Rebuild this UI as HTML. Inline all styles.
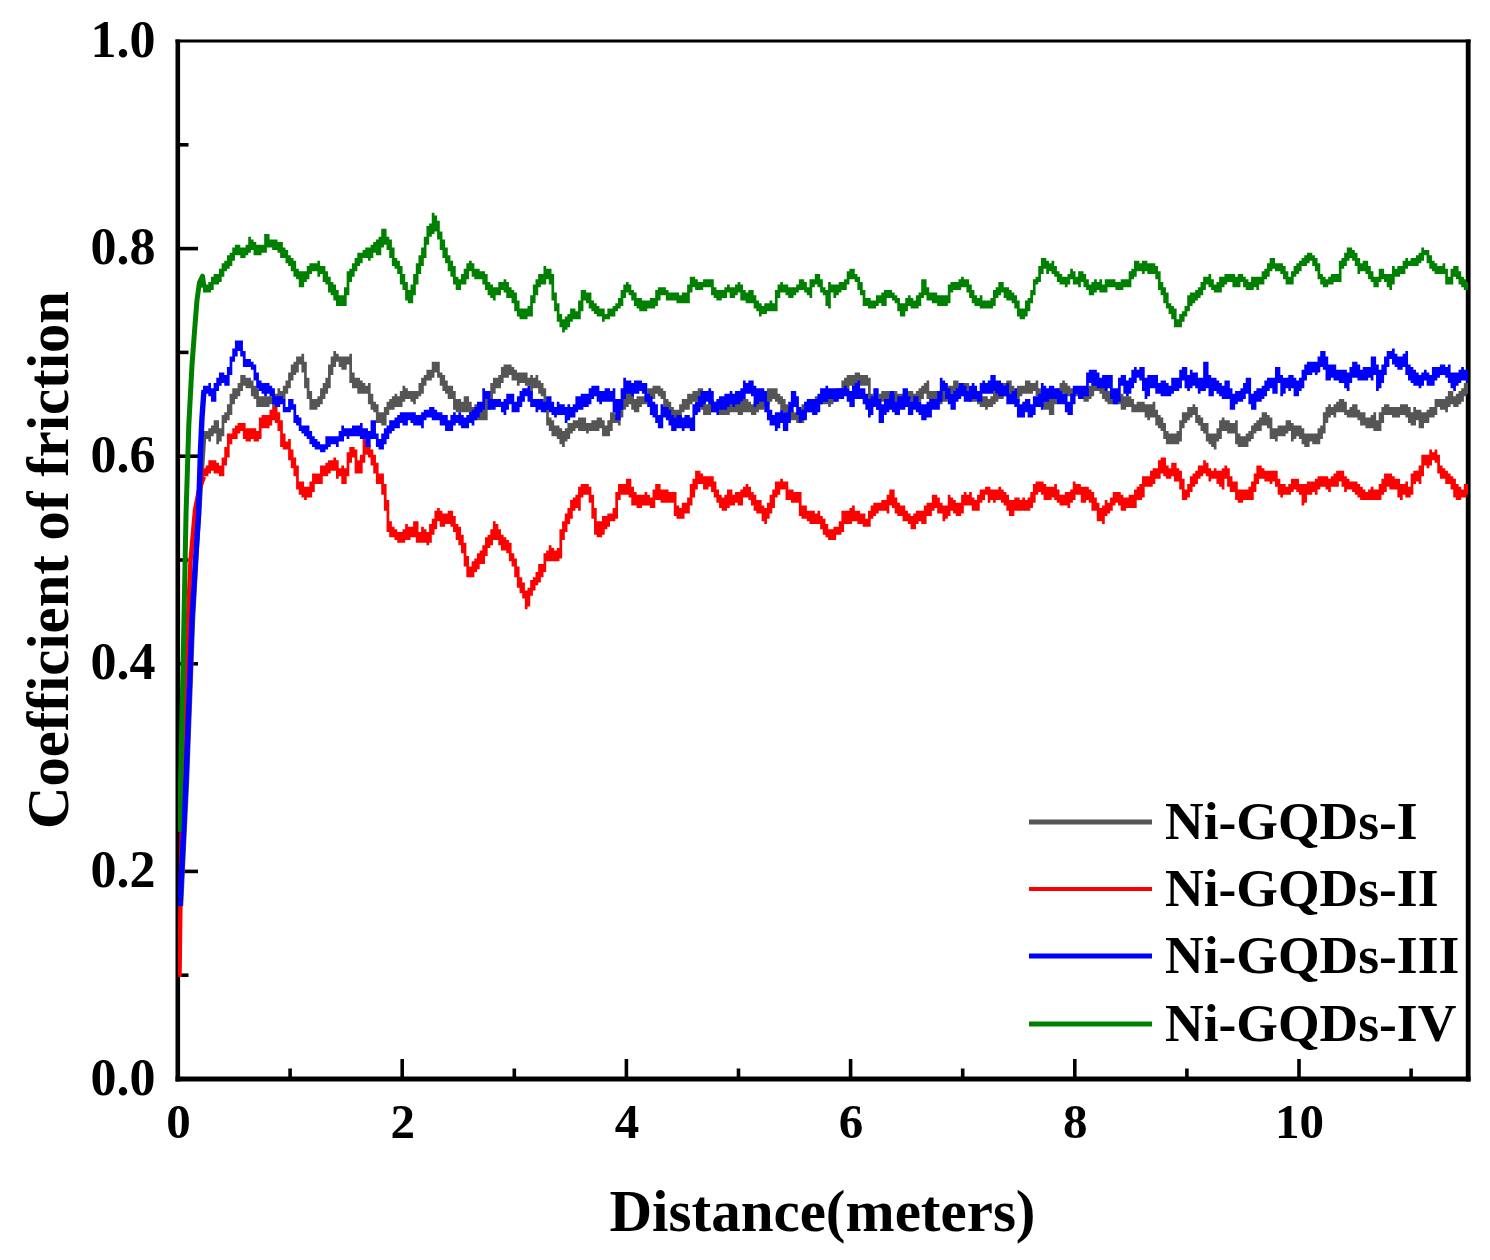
<!DOCTYPE html>
<html lang="en"><head><meta charset="utf-8"><title>Coefficient of friction vs distance</title>
<style>html,body{margin:0;padding:0;background:#fff}body{width:1490px;height:1260px;overflow:hidden}svg{display:block}</style>
</head><body>
<svg width="1490" height="1260" viewBox="0 0 1490 1260">
<rect width="1490" height="1260" fill="#fff"/>
<clipPath id="cp"><rect x="178.0" y="41.0" width="1290.0" height="1038.0"/></clipPath>
<g stroke="#000" fill="none">
<line x1="177.8" y1="39.5" x2="177.8" y2="1081.4" stroke-width="4.6"/>
<line x1="175.5" y1="1079.0" x2="1470.6" y2="1079.0" stroke-width="4.8"/>
<line x1="175.5" y1="41.0" x2="1470.6" y2="41.0" stroke-width="3"/>
<line x1="1468.2" y1="39.5" x2="1468.2" y2="1081.4" stroke-width="4.8"/>
<line x1="178.0" y1="975.2" x2="188.5" y2="975.2" stroke-width="3.6"/>
<line x1="178.0" y1="871.4" x2="198.0" y2="871.4" stroke-width="3.6"/>
<line x1="178.0" y1="767.6" x2="188.5" y2="767.6" stroke-width="3.6"/>
<line x1="178.0" y1="663.8" x2="198.0" y2="663.8" stroke-width="3.6"/>
<line x1="178.0" y1="560.0" x2="188.5" y2="560.0" stroke-width="3.6"/>
<line x1="178.0" y1="456.2" x2="198.0" y2="456.2" stroke-width="3.6"/>
<line x1="178.0" y1="352.4" x2="188.5" y2="352.4" stroke-width="3.6"/>
<line x1="178.0" y1="248.6" x2="198.0" y2="248.6" stroke-width="3.6"/>
<line x1="178.0" y1="144.8" x2="188.5" y2="144.8" stroke-width="3.6"/>
<line x1="290.1" y1="1079.0" x2="290.1" y2="1068.5" stroke-width="3.6"/>
<line x1="402.2" y1="1079.0" x2="402.2" y2="1059.0" stroke-width="3.6"/>
<line x1="514.3" y1="1079.0" x2="514.3" y2="1068.5" stroke-width="3.6"/>
<line x1="626.4" y1="1079.0" x2="626.4" y2="1059.0" stroke-width="3.6"/>
<line x1="738.5" y1="1079.0" x2="738.5" y2="1068.5" stroke-width="3.6"/>
<line x1="850.6" y1="1079.0" x2="850.6" y2="1059.0" stroke-width="3.6"/>
<line x1="962.7" y1="1079.0" x2="962.7" y2="1068.5" stroke-width="3.6"/>
<line x1="1074.8" y1="1079.0" x2="1074.8" y2="1059.0" stroke-width="3.6"/>
<line x1="1186.9" y1="1079.0" x2="1186.9" y2="1068.5" stroke-width="3.6"/>
<line x1="1299.0" y1="1079.0" x2="1299.0" y2="1059.0" stroke-width="3.6"/>
<line x1="1411.1" y1="1079.0" x2="1411.1" y2="1068.5" stroke-width="3.6"/>
</g>
<g clip-path="url(#cp)">
<path d="M181.0 906.0 L187.0 780.0 L193.0 618.0 L197.0 545.0 L202.5 460.0 L204.0 437.5" fill="none" stroke="#555555" stroke-width="4.5" stroke-linejoin="round"/>
<path d="M203.00 430.92h2.71v7.98h-2.71zM205.66 430.92h2.71v7.98h-2.71zM208.32 428.26h2.71v13.30h-2.71zM210.98 425.60h2.71v10.64h-2.71zM213.64 420.28h2.71v13.30h-2.71zM216.30 420.28h2.71v23.94h-2.71zM218.96 428.26h2.71v13.30h-2.71zM221.62 414.96h2.71v21.28h-2.71zM224.28 412.30h2.71v10.64h-2.71zM226.94 404.32h2.71v15.96h-2.71zM229.60 393.68h2.71v21.28h-2.71zM232.26 388.36h2.71v15.96h-2.71zM234.92 388.36h2.71v10.64h-2.71zM237.58 383.04h2.71v13.30h-2.71zM240.24 375.06h2.71v15.96h-2.71zM242.90 375.06h2.71v10.64h-2.71zM245.56 377.72h2.71v10.64h-2.71zM248.22 377.72h2.71v10.64h-2.71zM250.88 380.38h2.71v15.96h-2.71zM253.54 385.70h2.71v13.30h-2.71zM256.20 388.36h2.71v18.62h-2.71zM258.86 396.34h2.71v10.64h-2.71zM261.52 396.34h2.71v10.64h-2.71zM264.18 396.34h2.71v10.64h-2.71zM266.84 396.34h2.71v10.64h-2.71zM269.50 396.34h2.71v7.98h-2.71zM272.16 391.02h2.71v15.96h-2.71zM274.82 393.68h2.71v10.64h-2.71zM277.48 388.36h2.71v15.96h-2.71zM280.14 391.02h2.71v10.64h-2.71zM282.80 385.70h2.71v13.30h-2.71zM285.46 380.38h2.71v13.30h-2.71zM288.12 372.40h2.71v15.96h-2.71zM290.78 364.42h2.71v15.96h-2.71zM293.44 361.76h2.71v13.30h-2.71zM296.10 356.44h2.71v15.96h-2.71zM298.76 356.44h2.71v7.98h-2.71zM301.42 353.78h2.71v18.62h-2.71zM304.08 361.76h2.71v26.60h-2.71zM306.74 377.72h2.71v21.28h-2.71zM309.40 391.02h2.71v18.62h-2.71zM312.06 399.00h2.71v10.64h-2.71zM314.72 399.00h2.71v10.64h-2.71zM317.38 396.34h2.71v10.64h-2.71zM320.04 388.36h2.71v15.96h-2.71zM322.70 383.04h2.71v15.96h-2.71zM325.36 377.72h2.71v15.96h-2.71zM328.02 364.42h2.71v23.94h-2.71zM330.68 356.44h2.71v18.62h-2.71zM333.34 351.12h2.71v15.96h-2.71zM336.00 353.78h2.71v7.98h-2.71zM338.66 356.44h2.71v10.64h-2.71zM341.32 356.44h2.71v13.30h-2.71zM343.98 356.44h2.71v13.30h-2.71zM346.64 356.44h2.71v7.98h-2.71zM349.30 353.78h2.71v29.26h-2.71zM351.96 372.40h2.71v15.96h-2.71zM354.62 377.72h2.71v10.64h-2.71zM357.28 377.72h2.71v15.96h-2.71zM359.94 380.38h2.71v13.30h-2.71zM362.60 383.04h2.71v10.64h-2.71zM365.26 385.70h2.71v7.98h-2.71zM367.92 383.04h2.71v21.28h-2.71zM370.58 393.68h2.71v15.96h-2.71zM373.24 401.66h2.71v10.64h-2.71zM375.90 404.32h2.71v18.62h-2.71zM378.56 412.30h2.71v10.64h-2.71zM381.22 412.30h2.71v13.30h-2.71zM383.88 406.98h2.71v18.62h-2.71zM386.54 401.66h2.71v13.30h-2.71zM389.20 399.00h2.71v10.64h-2.71zM391.86 396.34h2.71v13.30h-2.71zM394.52 393.68h2.71v13.30h-2.71zM397.18 396.34h2.71v10.64h-2.71zM399.84 391.02h2.71v15.96h-2.71zM402.50 385.70h2.71v15.96h-2.71zM405.16 388.36h2.71v10.64h-2.71zM407.82 391.02h2.71v7.98h-2.71zM410.48 391.02h2.71v10.64h-2.71zM413.14 391.02h2.71v13.30h-2.71zM415.80 391.02h2.71v7.98h-2.71zM418.46 383.04h2.71v13.30h-2.71zM421.12 377.72h2.71v15.96h-2.71zM423.78 375.06h2.71v10.64h-2.71zM426.44 369.74h2.71v10.64h-2.71zM429.10 369.74h2.71v10.64h-2.71zM431.76 361.76h2.71v15.96h-2.71zM434.42 361.76h2.71v10.64h-2.71zM437.08 361.76h2.71v15.96h-2.71zM439.74 372.40h2.71v13.30h-2.71zM442.40 375.06h2.71v15.96h-2.71zM445.06 380.38h2.71v13.30h-2.71zM447.72 385.70h2.71v13.30h-2.71zM450.38 385.70h2.71v13.30h-2.71zM453.04 391.02h2.71v18.62h-2.71zM455.70 399.00h2.71v13.30h-2.71zM458.36 399.00h2.71v13.30h-2.71zM461.02 401.66h2.71v10.64h-2.71zM463.68 396.34h2.71v15.96h-2.71zM466.34 396.34h2.71v15.96h-2.71zM469.00 401.66h2.71v15.96h-2.71zM471.66 406.98h2.71v13.30h-2.71zM474.32 404.32h2.71v15.96h-2.71zM476.98 406.98h2.71v13.30h-2.71zM479.64 409.64h2.71v10.64h-2.71zM482.30 406.98h2.71v13.30h-2.71zM484.96 399.00h2.71v21.28h-2.71zM487.62 391.02h2.71v18.62h-2.71zM490.28 383.04h2.71v18.62h-2.71zM492.94 377.72h2.71v15.96h-2.71zM495.60 377.72h2.71v10.64h-2.71zM498.26 375.06h2.71v13.30h-2.71zM500.92 367.08h2.71v15.96h-2.71zM503.58 364.42h2.71v13.30h-2.71zM506.24 364.42h2.71v13.30h-2.71zM508.90 364.42h2.71v10.64h-2.71zM511.56 367.08h2.71v13.30h-2.71zM514.22 369.74h2.71v10.64h-2.71zM516.88 372.40h2.71v13.30h-2.71zM519.54 372.40h2.71v10.64h-2.71zM522.20 372.40h2.71v10.64h-2.71zM524.86 372.40h2.71v13.30h-2.71zM527.52 377.72h2.71v7.98h-2.71zM530.18 375.06h2.71v15.96h-2.71zM532.84 377.72h2.71v10.64h-2.71zM535.50 375.06h2.71v13.30h-2.71zM538.16 380.38h2.71v13.30h-2.71zM540.82 383.04h2.71v13.30h-2.71zM543.48 388.36h2.71v23.94h-2.71zM546.14 401.66h2.71v23.94h-2.71zM548.80 417.62h2.71v13.30h-2.71zM551.46 420.28h2.71v15.96h-2.71zM554.12 425.60h2.71v10.64h-2.71zM556.78 425.60h2.71v13.30h-2.71zM559.44 428.26h2.71v15.96h-2.71zM562.10 430.92h2.71v15.96h-2.71zM564.76 428.26h2.71v13.30h-2.71zM567.42 422.94h2.71v15.96h-2.71zM570.08 422.94h2.71v10.64h-2.71zM572.74 420.28h2.71v10.64h-2.71zM575.40 420.28h2.71v7.98h-2.71zM578.06 417.62h2.71v13.30h-2.71zM580.72 417.62h2.71v13.30h-2.71zM583.38 417.62h2.71v13.30h-2.71zM586.04 422.94h2.71v10.64h-2.71zM588.70 422.94h2.71v7.98h-2.71zM591.36 420.28h2.71v10.64h-2.71zM594.02 420.28h2.71v10.64h-2.71zM596.68 417.62h2.71v13.30h-2.71zM599.34 417.62h2.71v10.64h-2.71zM602.00 420.28h2.71v15.96h-2.71zM604.66 425.60h2.71v10.64h-2.71zM607.32 420.28h2.71v15.96h-2.71zM609.98 412.30h2.71v18.62h-2.71zM612.64 412.30h2.71v10.64h-2.71zM615.30 414.96h2.71v7.98h-2.71zM617.96 406.98h2.71v18.62h-2.71zM620.62 399.00h2.71v18.62h-2.71zM623.28 396.34h2.71v13.30h-2.71zM625.94 391.02h2.71v15.96h-2.71zM628.60 391.02h2.71v13.30h-2.71zM631.26 391.02h2.71v18.62h-2.71zM633.92 399.00h2.71v13.30h-2.71zM636.58 396.34h2.71v15.96h-2.71zM639.24 396.34h2.71v10.64h-2.71zM641.90 396.34h2.71v7.98h-2.71zM644.56 393.68h2.71v10.64h-2.71zM647.22 388.36h2.71v13.30h-2.71zM649.88 388.36h2.71v10.64h-2.71zM652.54 385.70h2.71v13.30h-2.71zM655.20 385.70h2.71v7.98h-2.71zM657.86 385.70h2.71v10.64h-2.71zM660.52 388.36h2.71v10.64h-2.71zM663.18 391.02h2.71v15.96h-2.71zM665.84 399.00h2.71v13.30h-2.71zM668.50 401.66h2.71v15.96h-2.71zM671.16 406.98h2.71v13.30h-2.71zM673.82 409.64h2.71v10.64h-2.71zM676.48 409.64h2.71v7.98h-2.71zM679.14 404.32h2.71v13.30h-2.71zM681.80 399.00h2.71v13.30h-2.71zM684.46 399.00h2.71v10.64h-2.71zM687.12 393.68h2.71v15.96h-2.71zM689.78 393.68h2.71v10.64h-2.71zM692.44 391.02h2.71v10.64h-2.71zM695.10 391.02h2.71v10.64h-2.71zM697.76 388.36h2.71v10.64h-2.71zM700.42 388.36h2.71v21.28h-2.71zM703.08 399.00h2.71v15.96h-2.71zM705.74 404.32h2.71v10.64h-2.71zM708.40 399.00h2.71v15.96h-2.71zM711.06 399.00h2.71v13.30h-2.71zM713.72 401.66h2.71v10.64h-2.71zM716.38 404.32h2.71v7.98h-2.71zM719.04 404.32h2.71v10.64h-2.71zM721.70 406.98h2.71v7.98h-2.71zM724.36 401.66h2.71v13.30h-2.71zM727.02 399.00h2.71v15.96h-2.71zM729.68 401.66h2.71v10.64h-2.71zM732.34 401.66h2.71v10.64h-2.71zM735.00 401.66h2.71v10.64h-2.71zM737.66 401.66h2.71v13.30h-2.71zM740.32 401.66h2.71v13.30h-2.71zM742.98 399.00h2.71v13.30h-2.71zM745.64 399.00h2.71v13.30h-2.71zM748.30 401.66h2.71v10.64h-2.71zM750.96 404.32h2.71v10.64h-2.71zM753.62 401.66h2.71v13.30h-2.71zM756.28 401.66h2.71v10.64h-2.71zM758.94 399.00h2.71v10.64h-2.71zM761.60 396.34h2.71v13.30h-2.71zM764.26 393.68h2.71v13.30h-2.71zM766.92 388.36h2.71v15.96h-2.71zM769.58 388.36h2.71v13.30h-2.71zM772.24 388.36h2.71v10.64h-2.71zM774.90 388.36h2.71v13.30h-2.71zM777.56 393.68h2.71v10.64h-2.71zM780.22 396.34h2.71v13.30h-2.71zM782.88 399.00h2.71v13.30h-2.71zM785.54 404.32h2.71v13.30h-2.71zM788.20 406.98h2.71v13.30h-2.71zM790.86 409.64h2.71v10.64h-2.71zM793.52 412.30h2.71v7.98h-2.71zM796.18 412.30h2.71v10.64h-2.71zM798.84 412.30h2.71v10.64h-2.71zM801.50 404.32h2.71v18.62h-2.71zM804.16 401.66h2.71v15.96h-2.71zM806.82 404.32h2.71v7.98h-2.71zM809.48 399.00h2.71v13.30h-2.71zM812.14 399.00h2.71v10.64h-2.71zM814.80 396.34h2.71v13.30h-2.71zM817.46 396.34h2.71v13.30h-2.71zM820.12 396.34h2.71v7.98h-2.71zM822.78 393.68h2.71v10.64h-2.71zM825.44 393.68h2.71v10.64h-2.71zM828.10 393.68h2.71v13.30h-2.71zM830.76 391.02h2.71v13.30h-2.71zM833.42 391.02h2.71v10.64h-2.71zM836.08 388.36h2.71v10.64h-2.71zM838.74 388.36h2.71v10.64h-2.71zM841.40 380.38h2.71v15.96h-2.71zM844.06 377.72h2.71v13.30h-2.71zM846.72 375.06h2.71v13.30h-2.71zM849.38 375.06h2.71v10.64h-2.71zM852.04 375.06h2.71v13.30h-2.71zM854.70 372.40h2.71v15.96h-2.71zM857.36 372.40h2.71v13.30h-2.71zM860.02 375.06h2.71v10.64h-2.71zM862.68 375.06h2.71v10.64h-2.71zM865.34 375.06h2.71v10.64h-2.71zM868.00 377.72h2.71v26.60h-2.71zM870.66 393.68h2.71v13.30h-2.71zM873.32 396.34h2.71v10.64h-2.71zM875.98 401.66h2.71v7.98h-2.71zM878.64 393.68h2.71v15.96h-2.71zM881.30 391.02h2.71v10.64h-2.71zM883.96 391.02h2.71v7.98h-2.71zM886.62 391.02h2.71v13.30h-2.71zM889.28 393.68h2.71v10.64h-2.71zM891.94 393.68h2.71v10.64h-2.71zM894.60 391.02h2.71v13.30h-2.71zM897.26 393.68h2.71v13.30h-2.71zM899.92 393.68h2.71v13.30h-2.71zM902.58 393.68h2.71v7.98h-2.71zM905.24 391.02h2.71v13.30h-2.71zM907.90 391.02h2.71v7.98h-2.71zM910.56 391.02h2.71v13.30h-2.71zM913.22 393.68h2.71v10.64h-2.71zM915.88 391.02h2.71v10.64h-2.71zM918.54 388.36h2.71v13.30h-2.71zM921.20 385.70h2.71v13.30h-2.71zM923.86 383.04h2.71v10.64h-2.71zM926.52 380.38h2.71v18.62h-2.71zM929.18 391.02h2.71v7.98h-2.71zM931.84 391.02h2.71v10.64h-2.71zM934.50 391.02h2.71v10.64h-2.71zM937.16 391.02h2.71v13.30h-2.71zM939.82 391.02h2.71v13.30h-2.71zM942.48 391.02h2.71v10.64h-2.71zM945.14 388.36h2.71v13.30h-2.71zM947.80 385.70h2.71v10.64h-2.71zM950.46 385.70h2.71v7.98h-2.71zM953.12 380.38h2.71v13.30h-2.71zM955.78 380.38h2.71v13.30h-2.71zM958.44 385.70h2.71v7.98h-2.71zM961.10 383.04h2.71v10.64h-2.71zM963.76 383.04h2.71v13.30h-2.71zM966.42 383.04h2.71v15.96h-2.71zM969.08 388.36h2.71v13.30h-2.71zM971.74 391.02h2.71v10.64h-2.71zM974.40 391.02h2.71v10.64h-2.71zM977.06 391.02h2.71v13.30h-2.71zM979.72 396.34h2.71v10.64h-2.71zM982.38 396.34h2.71v10.64h-2.71zM985.04 396.34h2.71v13.30h-2.71zM987.70 399.00h2.71v7.98h-2.71zM990.36 396.34h2.71v10.64h-2.71zM993.02 391.02h2.71v13.30h-2.71zM995.68 388.36h2.71v13.30h-2.71zM998.34 388.36h2.71v10.64h-2.71zM1001.00 388.36h2.71v10.64h-2.71zM1003.66 383.04h2.71v13.30h-2.71zM1006.32 380.38h2.71v13.30h-2.71zM1008.98 380.38h2.71v15.96h-2.71zM1011.64 385.70h2.71v13.30h-2.71zM1014.30 391.02h2.71v7.98h-2.71zM1016.96 385.70h2.71v15.96h-2.71zM1019.62 385.70h2.71v10.64h-2.71zM1022.28 385.70h2.71v7.98h-2.71zM1024.94 380.38h2.71v13.30h-2.71zM1027.60 380.38h2.71v13.30h-2.71zM1030.26 383.04h2.71v10.64h-2.71zM1032.92 383.04h2.71v7.98h-2.71zM1035.58 380.38h2.71v15.96h-2.71zM1038.24 388.36h2.71v10.64h-2.71zM1040.90 391.02h2.71v15.96h-2.71zM1043.56 396.34h2.71v13.30h-2.71zM1046.22 399.00h2.71v10.64h-2.71zM1048.88 399.00h2.71v15.96h-2.71zM1051.54 396.34h2.71v18.62h-2.71zM1054.20 391.02h2.71v13.30h-2.71zM1056.86 388.36h2.71v10.64h-2.71zM1059.52 383.04h2.71v15.96h-2.71zM1062.18 380.38h2.71v13.30h-2.71zM1064.84 383.04h2.71v13.30h-2.71zM1067.50 385.70h2.71v10.64h-2.71zM1070.16 388.36h2.71v7.98h-2.71zM1072.82 388.36h2.71v7.98h-2.71zM1075.48 388.36h2.71v7.98h-2.71zM1078.14 388.36h2.71v10.64h-2.71zM1080.80 388.36h2.71v10.64h-2.71zM1083.46 388.36h2.71v13.30h-2.71zM1086.12 388.36h2.71v13.30h-2.71zM1088.78 385.70h2.71v13.30h-2.71zM1091.44 377.72h2.71v18.62h-2.71zM1094.10 377.72h2.71v13.30h-2.71zM1096.76 380.38h2.71v10.64h-2.71zM1099.42 380.38h2.71v13.30h-2.71zM1102.08 383.04h2.71v15.96h-2.71zM1104.74 388.36h2.71v13.30h-2.71zM1107.40 391.02h2.71v13.30h-2.71zM1110.06 393.68h2.71v10.64h-2.71zM1112.72 393.68h2.71v10.64h-2.71zM1115.38 393.68h2.71v10.64h-2.71zM1118.04 396.34h2.71v7.98h-2.71zM1120.70 393.68h2.71v15.96h-2.71zM1123.36 396.34h2.71v13.30h-2.71zM1126.02 396.34h2.71v10.64h-2.71zM1128.68 396.34h2.71v10.64h-2.71zM1131.34 399.00h2.71v13.30h-2.71zM1134.00 404.32h2.71v7.98h-2.71zM1136.66 401.66h2.71v10.64h-2.71zM1139.32 401.66h2.71v10.64h-2.71zM1141.98 401.66h2.71v10.64h-2.71zM1144.64 404.32h2.71v13.30h-2.71zM1147.30 404.32h2.71v15.96h-2.71zM1149.96 404.32h2.71v13.30h-2.71zM1152.62 401.66h2.71v15.96h-2.71zM1155.28 409.64h2.71v15.96h-2.71zM1157.94 414.96h2.71v13.30h-2.71zM1160.60 417.62h2.71v13.30h-2.71zM1163.26 422.94h2.71v15.96h-2.71zM1165.92 430.92h2.71v13.30h-2.71zM1168.58 433.58h2.71v10.64h-2.71zM1171.24 433.58h2.71v10.64h-2.71zM1173.90 433.58h2.71v10.64h-2.71zM1176.56 430.92h2.71v13.30h-2.71zM1179.22 420.28h2.71v21.28h-2.71zM1181.88 412.30h2.71v15.96h-2.71zM1184.54 412.30h2.71v10.64h-2.71zM1187.20 406.98h2.71v13.30h-2.71zM1189.86 406.98h2.71v10.64h-2.71zM1192.52 404.32h2.71v10.64h-2.71zM1195.18 406.98h2.71v15.96h-2.71zM1197.84 414.96h2.71v10.64h-2.71zM1200.50 417.62h2.71v13.30h-2.71zM1203.16 422.94h2.71v10.64h-2.71zM1205.82 422.94h2.71v18.62h-2.71zM1208.48 433.58h2.71v10.64h-2.71zM1211.14 433.58h2.71v13.30h-2.71zM1213.80 433.58h2.71v15.96h-2.71zM1216.46 428.26h2.71v13.30h-2.71zM1219.12 420.28h2.71v18.62h-2.71zM1221.78 417.62h2.71v13.30h-2.71zM1224.44 420.28h2.71v10.64h-2.71zM1227.10 420.28h2.71v13.30h-2.71zM1229.76 422.94h2.71v10.64h-2.71zM1232.42 422.94h2.71v10.64h-2.71zM1235.08 420.28h2.71v23.94h-2.71zM1237.74 433.58h2.71v13.30h-2.71zM1240.40 436.24h2.71v10.64h-2.71zM1243.06 436.24h2.71v10.64h-2.71zM1245.72 433.58h2.71v13.30h-2.71zM1248.38 430.92h2.71v10.64h-2.71zM1251.04 425.60h2.71v13.30h-2.71zM1253.70 422.94h2.71v10.64h-2.71zM1256.36 420.28h2.71v10.64h-2.71zM1259.02 417.62h2.71v13.30h-2.71zM1261.68 412.30h2.71v13.30h-2.71zM1264.34 412.30h2.71v13.30h-2.71zM1267.00 414.96h2.71v13.30h-2.71zM1269.66 417.62h2.71v21.28h-2.71zM1272.32 428.26h2.71v10.64h-2.71zM1274.98 428.26h2.71v13.30h-2.71zM1277.64 425.60h2.71v10.64h-2.71zM1280.30 425.60h2.71v10.64h-2.71zM1282.96 425.60h2.71v10.64h-2.71zM1285.62 420.28h2.71v13.30h-2.71zM1288.28 420.28h2.71v10.64h-2.71zM1290.94 422.94h2.71v18.62h-2.71zM1293.60 425.60h2.71v13.30h-2.71zM1296.26 425.60h2.71v10.64h-2.71zM1298.92 425.60h2.71v13.30h-2.71zM1301.58 428.26h2.71v15.96h-2.71zM1304.24 433.58h2.71v13.30h-2.71zM1306.90 433.58h2.71v13.30h-2.71zM1309.56 433.58h2.71v7.98h-2.71zM1312.22 433.58h2.71v10.64h-2.71zM1314.88 433.58h2.71v10.64h-2.71zM1317.54 428.26h2.71v15.96h-2.71zM1320.20 425.60h2.71v13.30h-2.71zM1322.86 412.30h2.71v21.28h-2.71zM1325.52 406.98h2.71v15.96h-2.71zM1328.18 404.32h2.71v13.30h-2.71zM1330.84 406.98h2.71v7.98h-2.71zM1333.50 404.32h2.71v13.30h-2.71zM1336.16 401.66h2.71v10.64h-2.71zM1338.82 399.00h2.71v13.30h-2.71zM1341.48 399.00h2.71v13.30h-2.71zM1344.14 401.66h2.71v13.30h-2.71zM1346.80 409.64h2.71v7.98h-2.71zM1349.46 406.98h2.71v10.64h-2.71zM1352.12 404.32h2.71v13.30h-2.71zM1354.78 404.32h2.71v13.30h-2.71zM1357.44 409.64h2.71v10.64h-2.71zM1360.10 412.30h2.71v13.30h-2.71zM1362.76 412.30h2.71v13.30h-2.71zM1365.42 417.62h2.71v10.64h-2.71zM1368.08 417.62h2.71v10.64h-2.71zM1370.74 414.96h2.71v13.30h-2.71zM1373.40 412.30h2.71v18.62h-2.71zM1376.06 420.28h2.71v10.64h-2.71zM1378.72 412.30h2.71v18.62h-2.71zM1381.38 406.98h2.71v15.96h-2.71zM1384.04 404.32h2.71v10.64h-2.71zM1386.70 404.32h2.71v10.64h-2.71zM1389.36 406.98h2.71v7.98h-2.71zM1392.02 406.98h2.71v10.64h-2.71zM1394.68 406.98h2.71v10.64h-2.71zM1397.34 406.98h2.71v10.64h-2.71zM1400.00 404.32h2.71v10.64h-2.71zM1402.66 404.32h2.71v10.64h-2.71zM1405.32 404.32h2.71v13.30h-2.71zM1407.98 406.98h2.71v15.96h-2.71zM1410.64 412.30h2.71v13.30h-2.71zM1413.30 406.98h2.71v18.62h-2.71zM1415.96 409.64h2.71v10.64h-2.71zM1418.62 409.64h2.71v18.62h-2.71zM1421.28 412.30h2.71v15.96h-2.71zM1423.94 412.30h2.71v10.64h-2.71zM1426.60 409.64h2.71v13.30h-2.71zM1429.26 406.98h2.71v10.64h-2.71zM1431.92 406.98h2.71v10.64h-2.71zM1434.58 399.00h2.71v15.96h-2.71zM1437.24 399.00h2.71v7.98h-2.71zM1439.90 399.00h2.71v10.64h-2.71zM1442.56 399.00h2.71v10.64h-2.71zM1445.22 396.34h2.71v15.96h-2.71zM1447.88 391.02h2.71v15.96h-2.71zM1450.54 391.02h2.71v13.30h-2.71zM1453.20 396.34h2.71v10.64h-2.71zM1455.86 393.68h2.71v13.30h-2.71zM1458.52 391.02h2.71v13.30h-2.71zM1461.18 388.36h2.71v13.30h-2.71zM1463.84 383.04h2.71v13.30h-2.71zM1466.50 383.04h2.71v10.64h-2.71z" fill="#555555"/>
<path d="M179.5 977.0 L180.5 900.0 L182.0 811.0 L185.5 700.0 L188.0 618.0 L190.5 561.0 L195.0 510.0 L199.0 490.0 L204.0 476.8" fill="none" stroke="#ff0000" stroke-width="4.4" stroke-linejoin="round"/>
<path d="M203.00 468.16h2.71v7.98h-2.71zM205.66 465.50h2.71v10.64h-2.71zM208.32 460.18h2.71v13.30h-2.71zM210.98 460.18h2.71v10.64h-2.71zM213.64 460.18h2.71v13.30h-2.71zM216.30 462.84h2.71v10.64h-2.71zM218.96 465.50h2.71v10.64h-2.71zM221.62 457.52h2.71v18.62h-2.71zM224.28 446.88h2.71v18.62h-2.71zM226.94 433.58h2.71v23.94h-2.71zM229.60 433.58h2.71v10.64h-2.71zM232.26 428.26h2.71v10.64h-2.71zM234.92 425.60h2.71v13.30h-2.71zM237.58 422.94h2.71v10.64h-2.71zM240.24 422.94h2.71v7.98h-2.71zM242.90 422.94h2.71v15.96h-2.71zM245.56 428.26h2.71v13.30h-2.71zM248.22 428.26h2.71v13.30h-2.71zM250.88 428.26h2.71v10.64h-2.71zM253.54 428.26h2.71v13.30h-2.71zM256.20 430.92h2.71v10.64h-2.71zM258.86 417.62h2.71v21.28h-2.71zM261.52 414.96h2.71v13.30h-2.71zM264.18 414.96h2.71v13.30h-2.71zM266.84 414.96h2.71v13.30h-2.71zM269.50 409.64h2.71v15.96h-2.71zM272.16 406.98h2.71v13.30h-2.71zM274.82 406.98h2.71v15.96h-2.71zM277.48 412.30h2.71v18.62h-2.71zM280.14 420.28h2.71v26.60h-2.71zM282.80 433.58h2.71v15.96h-2.71zM285.46 441.56h2.71v7.98h-2.71zM288.12 438.90h2.71v21.28h-2.71zM290.78 449.54h2.71v18.62h-2.71zM293.44 457.52h2.71v18.62h-2.71zM296.10 465.50h2.71v23.94h-2.71zM298.76 481.46h2.71v13.30h-2.71zM301.42 481.46h2.71v15.96h-2.71zM304.08 486.78h2.71v13.30h-2.71zM306.74 486.78h2.71v10.64h-2.71zM309.40 481.46h2.71v15.96h-2.71zM312.06 473.48h2.71v18.62h-2.71zM314.72 473.48h2.71v10.64h-2.71zM317.38 473.48h2.71v10.64h-2.71zM320.04 465.50h2.71v18.62h-2.71zM322.70 465.50h2.71v10.64h-2.71zM325.36 462.84h2.71v13.30h-2.71zM328.02 460.18h2.71v13.30h-2.71zM330.68 460.18h2.71v10.64h-2.71zM333.34 457.52h2.71v13.30h-2.71zM336.00 460.18h2.71v18.62h-2.71zM338.66 468.16h2.71v7.98h-2.71zM341.32 465.50h2.71v18.62h-2.71zM343.98 468.16h2.71v15.96h-2.71zM346.64 452.20h2.71v23.94h-2.71zM349.30 446.88h2.71v15.96h-2.71zM351.96 446.88h2.71v10.64h-2.71zM354.62 449.54h2.71v23.94h-2.71zM357.28 460.18h2.71v13.30h-2.71zM359.94 454.86h2.71v18.62h-2.71zM362.60 438.90h2.71v23.94h-2.71zM365.26 441.56h2.71v13.30h-2.71zM367.92 444.22h2.71v13.30h-2.71zM370.58 449.54h2.71v15.96h-2.71zM373.24 454.86h2.71v18.62h-2.71zM375.90 462.84h2.71v21.28h-2.71zM378.56 473.48h2.71v10.64h-2.71zM381.22 473.48h2.71v21.28h-2.71zM383.88 484.12h2.71v26.60h-2.71zM386.54 500.08h2.71v31.92h-2.71zM389.20 521.36h2.71v15.96h-2.71zM391.86 526.68h2.71v10.64h-2.71zM394.52 529.34h2.71v10.64h-2.71zM397.18 532.00h2.71v10.64h-2.71zM399.84 532.00h2.71v10.64h-2.71zM402.50 529.34h2.71v13.30h-2.71zM405.16 524.02h2.71v15.96h-2.71zM407.82 526.68h2.71v13.30h-2.71zM410.48 526.68h2.71v10.64h-2.71zM413.14 521.36h2.71v15.96h-2.71zM415.80 521.36h2.71v21.28h-2.71zM418.46 532.00h2.71v10.64h-2.71zM421.12 526.68h2.71v15.96h-2.71zM423.78 529.34h2.71v13.30h-2.71zM426.44 532.00h2.71v13.30h-2.71zM429.10 524.02h2.71v18.62h-2.71zM431.76 518.70h2.71v15.96h-2.71zM434.42 510.72h2.71v18.62h-2.71zM437.08 508.06h2.71v13.30h-2.71zM439.74 510.72h2.71v15.96h-2.71zM442.40 513.38h2.71v13.30h-2.71zM445.06 513.38h2.71v10.64h-2.71zM447.72 510.72h2.71v13.30h-2.71zM450.38 510.72h2.71v15.96h-2.71zM453.04 516.04h2.71v15.96h-2.71zM455.70 524.02h2.71v15.96h-2.71zM458.36 526.68h2.71v18.62h-2.71zM461.02 534.66h2.71v18.62h-2.71zM463.68 542.64h2.71v23.94h-2.71zM466.34 555.94h2.71v21.28h-2.71zM469.00 566.58h2.71v10.64h-2.71zM471.66 561.26h2.71v15.96h-2.71zM474.32 558.60h2.71v13.30h-2.71zM476.98 553.28h2.71v15.96h-2.71zM479.64 550.62h2.71v13.30h-2.71zM482.30 545.30h2.71v18.62h-2.71zM484.96 537.32h2.71v18.62h-2.71zM487.62 534.66h2.71v13.30h-2.71zM490.28 529.34h2.71v15.96h-2.71zM492.94 521.36h2.71v18.62h-2.71zM495.60 524.02h2.71v15.96h-2.71zM498.26 529.34h2.71v15.96h-2.71zM500.92 534.66h2.71v15.96h-2.71zM503.58 537.32h2.71v13.30h-2.71zM506.24 539.98h2.71v13.30h-2.71zM508.90 542.64h2.71v18.62h-2.71zM511.56 553.28h2.71v13.30h-2.71zM514.22 558.60h2.71v18.62h-2.71zM516.88 566.58h2.71v21.28h-2.71zM519.54 577.22h2.71v15.96h-2.71zM522.20 582.54h2.71v15.96h-2.71zM524.86 590.52h2.71v18.62h-2.71zM527.52 587.86h2.71v18.62h-2.71zM530.18 579.88h2.71v15.96h-2.71zM532.84 577.22h2.71v13.30h-2.71zM535.50 571.90h2.71v13.30h-2.71zM538.16 563.92h2.71v18.62h-2.71zM540.82 563.92h2.71v13.30h-2.71zM543.48 553.28h2.71v18.62h-2.71zM546.14 550.62h2.71v10.64h-2.71zM548.80 545.30h2.71v15.96h-2.71zM551.46 547.96h2.71v13.30h-2.71zM554.12 550.62h2.71v10.64h-2.71zM556.78 547.96h2.71v13.30h-2.71zM559.44 529.34h2.71v29.26h-2.71zM562.10 521.36h2.71v18.62h-2.71zM564.76 513.38h2.71v18.62h-2.71zM567.42 508.06h2.71v15.96h-2.71zM570.08 500.08h2.71v18.62h-2.71zM572.74 497.42h2.71v13.30h-2.71zM575.40 494.76h2.71v13.30h-2.71zM578.06 486.78h2.71v23.94h-2.71zM580.72 484.12h2.71v13.30h-2.71zM583.38 484.12h2.71v10.64h-2.71zM586.04 484.12h2.71v10.64h-2.71zM588.70 486.78h2.71v15.96h-2.71zM591.36 494.76h2.71v23.94h-2.71zM594.02 508.06h2.71v26.60h-2.71zM596.68 521.36h2.71v15.96h-2.71zM599.34 521.36h2.71v15.96h-2.71zM602.00 516.04h2.71v18.62h-2.71zM604.66 516.04h2.71v13.30h-2.71zM607.32 513.38h2.71v13.30h-2.71zM609.98 513.38h2.71v7.98h-2.71zM612.64 508.06h2.71v13.30h-2.71zM615.30 492.10h2.71v26.60h-2.71zM617.96 484.12h2.71v15.96h-2.71zM620.62 484.12h2.71v10.64h-2.71zM623.28 484.12h2.71v10.64h-2.71zM625.94 478.80h2.71v15.96h-2.71zM628.60 478.80h2.71v18.62h-2.71zM631.26 486.78h2.71v18.62h-2.71zM633.92 492.10h2.71v13.30h-2.71zM636.58 494.76h2.71v13.30h-2.71zM639.24 494.76h2.71v13.30h-2.71zM641.90 494.76h2.71v10.64h-2.71zM644.56 492.10h2.71v13.30h-2.71zM647.22 494.76h2.71v10.64h-2.71zM649.88 497.42h2.71v10.64h-2.71zM652.54 489.44h2.71v18.62h-2.71zM655.20 484.12h2.71v15.96h-2.71zM657.86 484.12h2.71v15.96h-2.71zM660.52 489.44h2.71v13.30h-2.71zM663.18 489.44h2.71v13.30h-2.71zM665.84 489.44h2.71v13.30h-2.71zM668.50 492.10h2.71v10.64h-2.71zM671.16 492.10h2.71v10.64h-2.71zM673.82 492.10h2.71v23.94h-2.71zM676.48 505.40h2.71v13.30h-2.71zM679.14 508.06h2.71v10.64h-2.71zM681.80 502.74h2.71v15.96h-2.71zM684.46 502.74h2.71v10.64h-2.71zM687.12 497.42h2.71v15.96h-2.71zM689.78 484.12h2.71v21.28h-2.71zM692.44 478.80h2.71v18.62h-2.71zM695.10 470.82h2.71v18.62h-2.71zM697.76 470.82h2.71v13.30h-2.71zM700.42 473.48h2.71v10.64h-2.71zM703.08 476.14h2.71v13.30h-2.71zM705.74 476.14h2.71v13.30h-2.71zM708.40 476.14h2.71v10.64h-2.71zM711.06 476.14h2.71v15.96h-2.71zM713.72 481.46h2.71v15.96h-2.71zM716.38 489.44h2.71v13.30h-2.71zM719.04 494.76h2.71v13.30h-2.71zM721.70 497.42h2.71v13.30h-2.71zM724.36 494.76h2.71v15.96h-2.71zM727.02 489.44h2.71v18.62h-2.71zM729.68 489.44h2.71v15.96h-2.71zM732.34 494.76h2.71v10.64h-2.71zM735.00 492.10h2.71v10.64h-2.71zM737.66 492.10h2.71v13.30h-2.71zM740.32 489.44h2.71v15.96h-2.71zM742.98 486.78h2.71v10.64h-2.71zM745.64 484.12h2.71v13.30h-2.71zM748.30 486.78h2.71v13.30h-2.71zM750.96 492.10h2.71v13.30h-2.71zM753.62 494.76h2.71v15.96h-2.71zM756.28 500.08h2.71v13.30h-2.71zM758.94 500.08h2.71v13.30h-2.71zM761.60 505.40h2.71v15.96h-2.71zM764.26 508.06h2.71v15.96h-2.71zM766.92 502.74h2.71v15.96h-2.71zM769.58 494.76h2.71v18.62h-2.71zM772.24 489.44h2.71v18.62h-2.71zM774.90 481.46h2.71v15.96h-2.71zM777.56 481.46h2.71v13.30h-2.71zM780.22 478.80h2.71v10.64h-2.71zM782.88 481.46h2.71v7.98h-2.71zM785.54 481.46h2.71v18.62h-2.71zM788.20 489.44h2.71v10.64h-2.71zM790.86 489.44h2.71v13.30h-2.71zM793.52 492.10h2.71v10.64h-2.71zM796.18 492.10h2.71v10.64h-2.71zM798.84 492.10h2.71v23.94h-2.71zM801.50 505.40h2.71v13.30h-2.71zM804.16 505.40h2.71v13.30h-2.71zM806.82 510.72h2.71v10.64h-2.71zM809.48 510.72h2.71v13.30h-2.71zM812.14 510.72h2.71v13.30h-2.71zM814.80 513.38h2.71v10.64h-2.71zM817.46 510.72h2.71v13.30h-2.71zM820.12 516.04h2.71v13.30h-2.71zM822.78 518.70h2.71v15.96h-2.71zM825.44 524.02h2.71v13.30h-2.71zM828.10 529.34h2.71v10.64h-2.71zM830.76 529.34h2.71v10.64h-2.71zM833.42 526.68h2.71v13.30h-2.71zM836.08 526.68h2.71v7.98h-2.71zM838.74 521.36h2.71v13.30h-2.71zM841.40 510.72h2.71v21.28h-2.71zM844.06 510.72h2.71v13.30h-2.71zM846.72 510.72h2.71v13.30h-2.71zM849.38 508.06h2.71v15.96h-2.71zM852.04 505.40h2.71v15.96h-2.71zM854.70 510.72h2.71v10.64h-2.71zM857.36 510.72h2.71v13.30h-2.71zM860.02 513.38h2.71v10.64h-2.71zM862.68 513.38h2.71v13.30h-2.71zM865.34 518.70h2.71v7.98h-2.71zM868.00 510.72h2.71v15.96h-2.71zM870.66 505.40h2.71v13.30h-2.71zM873.32 502.74h2.71v13.30h-2.71zM875.98 502.74h2.71v10.64h-2.71zM878.64 502.74h2.71v7.98h-2.71zM881.30 500.08h2.71v10.64h-2.71zM883.96 500.08h2.71v10.64h-2.71zM886.62 494.76h2.71v18.62h-2.71zM889.28 489.44h2.71v15.96h-2.71zM891.94 489.44h2.71v18.62h-2.71zM894.60 497.42h2.71v15.96h-2.71zM897.26 502.74h2.71v13.30h-2.71zM899.92 505.40h2.71v10.64h-2.71zM902.58 505.40h2.71v15.96h-2.71zM905.24 510.72h2.71v10.64h-2.71zM907.90 513.38h2.71v10.64h-2.71zM910.56 516.04h2.71v13.30h-2.71zM913.22 513.38h2.71v15.96h-2.71zM915.88 510.72h2.71v13.30h-2.71zM918.54 510.72h2.71v10.64h-2.71zM921.20 510.72h2.71v13.30h-2.71zM923.86 505.40h2.71v18.62h-2.71zM926.52 502.74h2.71v13.30h-2.71zM929.18 502.74h2.71v13.30h-2.71zM931.84 494.76h2.71v15.96h-2.71zM934.50 494.76h2.71v13.30h-2.71zM937.16 497.42h2.71v15.96h-2.71zM939.82 502.74h2.71v10.64h-2.71zM942.48 505.40h2.71v15.96h-2.71zM945.14 505.40h2.71v13.30h-2.71zM947.80 494.76h2.71v21.28h-2.71zM950.46 497.42h2.71v13.30h-2.71zM953.12 500.08h2.71v13.30h-2.71zM955.78 502.74h2.71v13.30h-2.71zM958.44 502.74h2.71v13.30h-2.71zM961.10 494.76h2.71v18.62h-2.71zM963.76 492.10h2.71v13.30h-2.71zM966.42 494.76h2.71v10.64h-2.71zM969.08 492.10h2.71v13.30h-2.71zM971.74 497.42h2.71v13.30h-2.71zM974.40 500.08h2.71v10.64h-2.71zM977.06 494.76h2.71v15.96h-2.71zM979.72 489.44h2.71v13.30h-2.71zM982.38 489.44h2.71v10.64h-2.71zM985.04 486.78h2.71v7.98h-2.71zM987.70 486.78h2.71v15.96h-2.71zM990.36 489.44h2.71v10.64h-2.71zM993.02 489.44h2.71v13.30h-2.71zM995.68 489.44h2.71v10.64h-2.71zM998.34 486.78h2.71v13.30h-2.71zM1001.00 489.44h2.71v13.30h-2.71zM1003.66 492.10h2.71v13.30h-2.71zM1006.32 494.76h2.71v15.96h-2.71zM1008.98 500.08h2.71v15.96h-2.71zM1011.64 500.08h2.71v15.96h-2.71zM1014.30 497.42h2.71v13.30h-2.71zM1016.96 497.42h2.71v13.30h-2.71zM1019.62 500.08h2.71v10.64h-2.71zM1022.28 497.42h2.71v13.30h-2.71zM1024.94 500.08h2.71v10.64h-2.71zM1027.60 497.42h2.71v13.30h-2.71zM1030.26 492.10h2.71v15.96h-2.71zM1032.92 484.12h2.71v18.62h-2.71zM1035.58 481.46h2.71v13.30h-2.71zM1038.24 481.46h2.71v10.64h-2.71zM1040.90 481.46h2.71v13.30h-2.71zM1043.56 484.12h2.71v15.96h-2.71zM1046.22 486.78h2.71v13.30h-2.71zM1048.88 486.78h2.71v13.30h-2.71zM1051.54 486.78h2.71v10.64h-2.71zM1054.20 484.12h2.71v15.96h-2.71zM1056.86 489.44h2.71v13.30h-2.71zM1059.52 494.76h2.71v10.64h-2.71zM1062.18 494.76h2.71v10.64h-2.71zM1064.84 492.10h2.71v13.30h-2.71zM1067.50 492.10h2.71v15.96h-2.71zM1070.16 489.44h2.71v13.30h-2.71zM1072.82 481.46h2.71v18.62h-2.71zM1075.48 484.12h2.71v10.64h-2.71zM1078.14 484.12h2.71v10.64h-2.71zM1080.80 486.78h2.71v15.96h-2.71zM1083.46 486.78h2.71v15.96h-2.71zM1086.12 486.78h2.71v13.30h-2.71zM1088.78 489.44h2.71v13.30h-2.71zM1091.44 492.10h2.71v18.62h-2.71zM1094.10 497.42h2.71v13.30h-2.71zM1096.76 502.74h2.71v18.62h-2.71zM1099.42 508.06h2.71v13.30h-2.71zM1102.08 505.40h2.71v18.62h-2.71zM1104.74 500.08h2.71v15.96h-2.71zM1107.40 502.74h2.71v10.64h-2.71zM1110.06 497.42h2.71v13.30h-2.71zM1112.72 492.10h2.71v13.30h-2.71zM1115.38 492.10h2.71v10.64h-2.71zM1118.04 492.10h2.71v13.30h-2.71zM1120.70 494.76h2.71v15.96h-2.71zM1123.36 497.42h2.71v13.30h-2.71zM1126.02 497.42h2.71v10.64h-2.71zM1128.68 494.76h2.71v13.30h-2.71zM1131.34 494.76h2.71v13.30h-2.71zM1134.00 489.44h2.71v18.62h-2.71zM1136.66 486.78h2.71v13.30h-2.71zM1139.32 484.12h2.71v15.96h-2.71zM1141.98 476.14h2.71v21.28h-2.71zM1144.64 476.14h2.71v10.64h-2.71zM1147.30 476.14h2.71v10.64h-2.71zM1149.96 470.82h2.71v15.96h-2.71zM1152.62 468.16h2.71v15.96h-2.71zM1155.28 468.16h2.71v10.64h-2.71zM1157.94 460.18h2.71v18.62h-2.71zM1160.60 457.52h2.71v15.96h-2.71zM1163.26 457.52h2.71v18.62h-2.71zM1165.92 465.50h2.71v13.30h-2.71zM1168.58 468.16h2.71v10.64h-2.71zM1171.24 462.84h2.71v13.30h-2.71zM1173.90 462.84h2.71v18.62h-2.71zM1176.56 468.16h2.71v13.30h-2.71zM1179.22 470.82h2.71v18.62h-2.71zM1181.88 478.80h2.71v21.28h-2.71zM1184.54 489.44h2.71v10.64h-2.71zM1187.20 484.12h2.71v13.30h-2.71zM1189.86 476.14h2.71v15.96h-2.71zM1192.52 473.48h2.71v13.30h-2.71zM1195.18 470.82h2.71v13.30h-2.71zM1197.84 465.50h2.71v13.30h-2.71zM1200.50 465.50h2.71v10.64h-2.71zM1203.16 460.18h2.71v13.30h-2.71zM1205.82 462.84h2.71v13.30h-2.71zM1208.48 468.16h2.71v13.30h-2.71zM1211.14 470.82h2.71v7.98h-2.71zM1213.80 468.16h2.71v10.64h-2.71zM1216.46 470.82h2.71v13.30h-2.71zM1219.12 470.82h2.71v15.96h-2.71zM1221.78 468.16h2.71v21.28h-2.71zM1224.44 465.50h2.71v13.30h-2.71zM1227.10 468.16h2.71v18.62h-2.71zM1229.76 476.14h2.71v15.96h-2.71zM1232.42 481.46h2.71v10.64h-2.71zM1235.08 481.46h2.71v18.62h-2.71zM1237.74 489.44h2.71v13.30h-2.71zM1240.40 489.44h2.71v13.30h-2.71zM1243.06 489.44h2.71v10.64h-2.71zM1245.72 489.44h2.71v10.64h-2.71zM1248.38 486.78h2.71v13.30h-2.71zM1251.04 481.46h2.71v18.62h-2.71zM1253.70 473.48h2.71v18.62h-2.71zM1256.36 465.50h2.71v18.62h-2.71zM1259.02 465.50h2.71v13.30h-2.71zM1261.68 468.16h2.71v10.64h-2.71zM1264.34 470.82h2.71v10.64h-2.71zM1267.00 470.82h2.71v10.64h-2.71zM1269.66 470.82h2.71v13.30h-2.71zM1272.32 470.82h2.71v10.64h-2.71zM1274.98 470.82h2.71v15.96h-2.71zM1277.64 478.80h2.71v15.96h-2.71zM1280.30 484.12h2.71v13.30h-2.71zM1282.96 484.12h2.71v10.64h-2.71zM1285.62 486.78h2.71v7.98h-2.71zM1288.28 484.12h2.71v10.64h-2.71zM1290.94 478.80h2.71v13.30h-2.71zM1293.60 478.80h2.71v10.64h-2.71zM1296.26 478.80h2.71v13.30h-2.71zM1298.92 484.12h2.71v10.64h-2.71zM1301.58 484.12h2.71v21.28h-2.71zM1304.24 484.12h2.71v18.62h-2.71zM1306.90 481.46h2.71v13.30h-2.71zM1309.56 481.46h2.71v13.30h-2.71zM1312.22 481.46h2.71v10.64h-2.71zM1314.88 478.80h2.71v15.96h-2.71zM1317.54 476.14h2.71v13.30h-2.71zM1320.20 476.14h2.71v10.64h-2.71zM1322.86 476.14h2.71v10.64h-2.71zM1325.52 476.14h2.71v13.30h-2.71zM1328.18 478.80h2.71v13.30h-2.71zM1330.84 476.14h2.71v10.64h-2.71zM1333.50 473.48h2.71v13.30h-2.71zM1336.16 470.82h2.71v15.96h-2.71zM1338.82 470.82h2.71v10.64h-2.71zM1341.48 470.82h2.71v15.96h-2.71zM1344.14 476.14h2.71v15.96h-2.71zM1346.80 478.80h2.71v10.64h-2.71zM1349.46 481.46h2.71v7.98h-2.71zM1352.12 481.46h2.71v10.64h-2.71zM1354.78 481.46h2.71v13.30h-2.71zM1357.44 484.12h2.71v13.30h-2.71zM1360.10 486.78h2.71v13.30h-2.71zM1362.76 489.44h2.71v10.64h-2.71zM1365.42 492.10h2.71v7.98h-2.71zM1368.08 489.44h2.71v10.64h-2.71zM1370.74 486.78h2.71v13.30h-2.71zM1373.40 489.44h2.71v10.64h-2.71zM1376.06 489.44h2.71v10.64h-2.71zM1378.72 484.12h2.71v15.96h-2.71zM1381.38 478.80h2.71v15.96h-2.71zM1384.04 473.48h2.71v18.62h-2.71zM1386.70 473.48h2.71v13.30h-2.71zM1389.36 473.48h2.71v15.96h-2.71zM1392.02 476.14h2.71v13.30h-2.71zM1394.68 478.80h2.71v10.64h-2.71zM1397.34 478.80h2.71v18.62h-2.71zM1400.00 484.12h2.71v15.96h-2.71zM1402.66 484.12h2.71v10.64h-2.71zM1405.32 481.46h2.71v15.96h-2.71zM1407.98 486.78h2.71v10.64h-2.71zM1410.64 473.48h2.71v21.28h-2.71zM1413.30 470.82h2.71v13.30h-2.71zM1415.96 470.82h2.71v10.64h-2.71zM1418.62 465.50h2.71v18.62h-2.71zM1421.28 454.86h2.71v21.28h-2.71zM1423.94 454.86h2.71v10.64h-2.71zM1426.60 454.86h2.71v13.30h-2.71zM1429.26 449.54h2.71v15.96h-2.71zM1431.92 452.20h2.71v7.98h-2.71zM1434.58 449.54h2.71v13.30h-2.71zM1437.24 454.86h2.71v18.62h-2.71zM1439.90 465.50h2.71v13.30h-2.71zM1442.56 468.16h2.71v10.64h-2.71zM1445.22 470.82h2.71v13.30h-2.71zM1447.88 473.48h2.71v10.64h-2.71zM1450.54 476.14h2.71v13.30h-2.71zM1453.20 478.80h2.71v18.62h-2.71zM1455.86 484.12h2.71v15.96h-2.71zM1458.52 486.78h2.71v13.30h-2.71zM1461.18 489.44h2.71v7.98h-2.71zM1463.84 484.12h2.71v13.30h-2.71zM1466.50 484.12h2.71v10.64h-2.71z" fill="#ff0000"/>
<path d="M180.0 906.0 L186.0 780.0 L192.0 618.0 L195.5 561.0 L198.5 515.0 L200.5 450.0 L202.0 417.5 L204.0 390.0" fill="none" stroke="#0000ff" stroke-width="5.4" stroke-linejoin="round"/>
<path d="M203.00 385.70h2.71v7.98h-2.71zM205.66 385.70h2.71v7.98h-2.71zM208.32 383.04h2.71v13.30h-2.71zM210.98 388.36h2.71v13.30h-2.71zM213.64 383.04h2.71v18.62h-2.71zM216.30 377.72h2.71v13.30h-2.71zM218.96 372.40h2.71v13.30h-2.71zM221.62 372.40h2.71v10.64h-2.71zM224.28 375.06h2.71v10.64h-2.71zM226.94 367.08h2.71v18.62h-2.71zM229.60 356.44h2.71v18.62h-2.71zM232.26 348.46h2.71v13.30h-2.71zM234.92 340.48h2.71v15.96h-2.71zM237.58 340.48h2.71v10.64h-2.71zM240.24 340.48h2.71v15.96h-2.71zM242.90 351.12h2.71v15.96h-2.71zM245.56 359.10h2.71v7.98h-2.71zM248.22 359.10h2.71v7.98h-2.71zM250.88 361.76h2.71v7.98h-2.71zM253.54 364.42h2.71v15.96h-2.71zM256.20 372.40h2.71v15.96h-2.71zM258.86 380.38h2.71v10.64h-2.71zM261.52 383.04h2.71v10.64h-2.71zM264.18 383.04h2.71v13.30h-2.71zM266.84 383.04h2.71v10.64h-2.71zM269.50 385.70h2.71v10.64h-2.71zM272.16 388.36h2.71v15.96h-2.71zM274.82 396.34h2.71v10.64h-2.71zM277.48 396.34h2.71v10.64h-2.71zM280.14 396.34h2.71v7.98h-2.71zM282.80 399.00h2.71v13.30h-2.71zM285.46 406.98h2.71v5.32h-2.71zM288.12 399.00h2.71v13.30h-2.71zM290.78 399.00h2.71v10.64h-2.71zM293.44 404.32h2.71v18.62h-2.71zM296.10 414.96h2.71v10.64h-2.71zM298.76 417.62h2.71v13.30h-2.71zM301.42 425.60h2.71v7.98h-2.71zM304.08 425.60h2.71v10.64h-2.71zM306.74 425.60h2.71v13.30h-2.71zM309.40 430.92h2.71v13.30h-2.71zM312.06 436.24h2.71v10.64h-2.71zM314.72 438.90h2.71v10.64h-2.71zM317.38 441.56h2.71v7.98h-2.71zM320.04 444.22h2.71v7.98h-2.71zM322.70 444.22h2.71v7.98h-2.71zM325.36 436.24h2.71v13.30h-2.71zM328.02 436.24h2.71v10.64h-2.71zM330.68 436.24h2.71v7.98h-2.71zM333.34 436.24h2.71v7.98h-2.71zM336.00 436.24h2.71v10.64h-2.71zM338.66 430.92h2.71v10.64h-2.71zM341.32 425.60h2.71v15.96h-2.71zM343.98 428.26h2.71v7.98h-2.71zM346.64 428.26h2.71v10.64h-2.71zM349.30 428.26h2.71v7.98h-2.71zM351.96 425.60h2.71v10.64h-2.71zM354.62 425.60h2.71v10.64h-2.71zM357.28 425.60h2.71v10.64h-2.71zM359.94 422.94h2.71v15.96h-2.71zM362.60 428.26h2.71v10.64h-2.71zM365.26 428.26h2.71v18.62h-2.71zM367.92 430.92h2.71v15.96h-2.71zM370.58 420.28h2.71v18.62h-2.71zM373.24 420.28h2.71v18.62h-2.71zM375.90 433.58h2.71v13.30h-2.71zM378.56 438.90h2.71v10.64h-2.71zM381.22 433.58h2.71v15.96h-2.71zM383.88 428.26h2.71v15.96h-2.71zM386.54 425.60h2.71v13.30h-2.71zM389.20 420.28h2.71v13.30h-2.71zM391.86 420.28h2.71v10.64h-2.71zM394.52 417.62h2.71v10.64h-2.71zM397.18 414.96h2.71v13.30h-2.71zM399.84 412.30h2.71v10.64h-2.71zM402.50 412.30h2.71v13.30h-2.71zM405.16 412.30h2.71v13.30h-2.71zM407.82 412.30h2.71v7.98h-2.71zM410.48 412.30h2.71v10.64h-2.71zM413.14 412.30h2.71v13.30h-2.71zM415.80 414.96h2.71v10.64h-2.71zM418.46 414.96h2.71v10.64h-2.71zM421.12 412.30h2.71v15.96h-2.71zM423.78 409.64h2.71v10.64h-2.71zM426.44 409.64h2.71v7.98h-2.71zM429.10 406.98h2.71v10.64h-2.71zM431.76 406.98h2.71v13.30h-2.71zM434.42 409.64h2.71v10.64h-2.71zM437.08 412.30h2.71v7.98h-2.71zM439.74 412.30h2.71v13.30h-2.71zM442.40 414.96h2.71v10.64h-2.71zM445.06 414.96h2.71v15.96h-2.71zM447.72 420.28h2.71v10.64h-2.71zM450.38 414.96h2.71v15.96h-2.71zM453.04 412.30h2.71v13.30h-2.71zM455.70 414.96h2.71v7.98h-2.71zM458.36 412.30h2.71v13.30h-2.71zM461.02 414.96h2.71v13.30h-2.71zM463.68 417.62h2.71v10.64h-2.71zM466.34 414.96h2.71v13.30h-2.71zM469.00 412.30h2.71v10.64h-2.71zM471.66 409.64h2.71v15.96h-2.71zM474.32 406.98h2.71v13.30h-2.71zM476.98 401.66h2.71v15.96h-2.71zM479.64 401.66h2.71v10.64h-2.71zM482.30 388.36h2.71v21.28h-2.71zM484.96 391.02h2.71v7.98h-2.71zM487.62 391.02h2.71v18.62h-2.71zM490.28 399.00h2.71v10.64h-2.71zM492.94 399.00h2.71v10.64h-2.71zM495.60 399.00h2.71v7.98h-2.71zM498.26 399.00h2.71v7.98h-2.71zM500.92 401.66h2.71v10.64h-2.71zM503.58 399.00h2.71v15.96h-2.71zM506.24 393.68h2.71v15.96h-2.71zM508.90 393.68h2.71v10.64h-2.71zM511.56 393.68h2.71v18.62h-2.71zM514.22 401.66h2.71v10.64h-2.71zM516.88 396.34h2.71v15.96h-2.71zM519.54 391.02h2.71v15.96h-2.71zM522.20 388.36h2.71v13.30h-2.71zM524.86 388.36h2.71v7.98h-2.71zM527.52 385.70h2.71v15.96h-2.71zM530.18 391.02h2.71v15.96h-2.71zM532.84 399.00h2.71v7.98h-2.71zM535.50 399.00h2.71v13.30h-2.71zM538.16 399.00h2.71v10.64h-2.71zM540.82 399.00h2.71v13.30h-2.71zM543.48 401.66h2.71v10.64h-2.71zM546.14 396.34h2.71v13.30h-2.71zM548.80 396.34h2.71v15.96h-2.71zM551.46 401.66h2.71v13.30h-2.71zM554.12 406.98h2.71v10.64h-2.71zM556.78 401.66h2.71v13.30h-2.71zM559.44 404.32h2.71v10.64h-2.71zM562.10 404.32h2.71v10.64h-2.71zM564.76 406.98h2.71v15.96h-2.71zM567.42 404.32h2.71v15.96h-2.71zM570.08 406.98h2.71v10.64h-2.71zM572.74 404.32h2.71v13.30h-2.71zM575.40 396.34h2.71v15.96h-2.71zM578.06 396.34h2.71v13.30h-2.71zM580.72 393.68h2.71v15.96h-2.71zM583.38 393.68h2.71v13.30h-2.71zM586.04 393.68h2.71v13.30h-2.71zM588.70 388.36h2.71v15.96h-2.71zM591.36 385.70h2.71v13.30h-2.71zM594.02 385.70h2.71v10.64h-2.71zM596.68 385.70h2.71v15.96h-2.71zM599.34 391.02h2.71v13.30h-2.71zM602.00 391.02h2.71v10.64h-2.71zM604.66 388.36h2.71v13.30h-2.71zM607.32 388.36h2.71v13.30h-2.71zM609.98 391.02h2.71v10.64h-2.71zM612.64 388.36h2.71v23.94h-2.71zM615.30 399.00h2.71v21.28h-2.71zM617.96 399.00h2.71v21.28h-2.71zM620.62 388.36h2.71v21.28h-2.71zM623.28 377.72h2.71v21.28h-2.71zM625.94 380.38h2.71v13.30h-2.71zM628.60 380.38h2.71v13.30h-2.71zM631.26 383.04h2.71v13.30h-2.71zM633.92 380.38h2.71v13.30h-2.71zM636.58 380.38h2.71v13.30h-2.71zM639.24 380.38h2.71v10.64h-2.71zM641.90 383.04h2.71v10.64h-2.71zM644.56 383.04h2.71v18.62h-2.71zM647.22 393.68h2.71v13.30h-2.71zM649.88 396.34h2.71v18.62h-2.71zM652.54 401.66h2.71v15.96h-2.71zM655.20 404.32h2.71v18.62h-2.71zM657.86 414.96h2.71v13.30h-2.71zM660.52 404.32h2.71v23.94h-2.71zM663.18 406.98h2.71v10.64h-2.71zM665.84 406.98h2.71v13.30h-2.71zM668.50 409.64h2.71v15.96h-2.71zM671.16 414.96h2.71v15.96h-2.71zM673.82 417.62h2.71v13.30h-2.71zM676.48 414.96h2.71v13.30h-2.71zM679.14 414.96h2.71v13.30h-2.71zM681.80 417.62h2.71v13.30h-2.71zM684.46 414.96h2.71v13.30h-2.71zM687.12 414.96h2.71v13.30h-2.71zM689.78 417.62h2.71v13.30h-2.71zM692.44 404.32h2.71v26.60h-2.71zM695.10 401.66h2.71v13.30h-2.71zM697.76 396.34h2.71v15.96h-2.71zM700.42 391.02h2.71v15.96h-2.71zM703.08 391.02h2.71v13.30h-2.71zM705.74 391.02h2.71v10.64h-2.71zM708.40 388.36h2.71v15.96h-2.71zM711.06 391.02h2.71v21.28h-2.71zM713.72 401.66h2.71v10.64h-2.71zM716.38 399.00h2.71v15.96h-2.71zM719.04 396.34h2.71v13.30h-2.71zM721.70 396.34h2.71v13.30h-2.71zM724.36 393.68h2.71v15.96h-2.71zM727.02 393.68h2.71v13.30h-2.71zM729.68 391.02h2.71v13.30h-2.71zM732.34 393.68h2.71v13.30h-2.71zM735.00 391.02h2.71v13.30h-2.71zM737.66 391.02h2.71v13.30h-2.71zM740.32 388.36h2.71v13.30h-2.71zM742.98 380.38h2.71v18.62h-2.71zM745.64 383.04h2.71v10.64h-2.71zM748.30 380.38h2.71v13.30h-2.71zM750.96 380.38h2.71v15.96h-2.71zM753.62 385.70h2.71v21.28h-2.71zM756.28 388.36h2.71v15.96h-2.71zM758.94 388.36h2.71v13.30h-2.71zM761.60 388.36h2.71v13.30h-2.71zM764.26 391.02h2.71v21.28h-2.71zM766.92 401.66h2.71v18.62h-2.71zM769.58 409.64h2.71v15.96h-2.71zM772.24 414.96h2.71v10.64h-2.71zM774.90 412.30h2.71v18.62h-2.71zM777.56 412.30h2.71v15.96h-2.71zM780.22 409.64h2.71v13.30h-2.71zM782.88 412.30h2.71v18.62h-2.71zM785.54 412.30h2.71v18.62h-2.71zM788.20 401.66h2.71v21.28h-2.71zM790.86 391.02h2.71v21.28h-2.71zM793.52 391.02h2.71v15.96h-2.71zM796.18 396.34h2.71v18.62h-2.71zM798.84 406.98h2.71v15.96h-2.71zM801.50 409.64h2.71v10.64h-2.71zM804.16 401.66h2.71v18.62h-2.71zM806.82 399.00h2.71v13.30h-2.71zM809.48 399.00h2.71v13.30h-2.71zM812.14 399.00h2.71v15.96h-2.71zM814.80 399.00h2.71v15.96h-2.71zM817.46 393.68h2.71v18.62h-2.71zM820.12 388.36h2.71v15.96h-2.71zM822.78 388.36h2.71v13.30h-2.71zM825.44 385.70h2.71v15.96h-2.71zM828.10 388.36h2.71v10.64h-2.71zM830.76 388.36h2.71v10.64h-2.71zM833.42 388.36h2.71v13.30h-2.71zM836.08 388.36h2.71v13.30h-2.71zM838.74 388.36h2.71v10.64h-2.71zM841.40 388.36h2.71v10.64h-2.71zM844.06 385.70h2.71v10.64h-2.71zM846.72 388.36h2.71v13.30h-2.71zM849.38 391.02h2.71v15.96h-2.71zM852.04 385.70h2.71v21.28h-2.71zM854.70 383.04h2.71v15.96h-2.71zM857.36 380.38h2.71v18.62h-2.71zM860.02 388.36h2.71v10.64h-2.71zM862.68 388.36h2.71v15.96h-2.71zM865.34 393.68h2.71v15.96h-2.71zM868.00 399.00h2.71v18.62h-2.71zM870.66 396.34h2.71v18.62h-2.71zM873.32 388.36h2.71v18.62h-2.71zM875.98 388.36h2.71v21.28h-2.71zM878.64 399.00h2.71v23.94h-2.71zM881.30 404.32h2.71v18.62h-2.71zM883.96 399.00h2.71v15.96h-2.71zM886.62 399.00h2.71v13.30h-2.71zM889.28 391.02h2.71v18.62h-2.71zM891.94 391.02h2.71v21.28h-2.71zM894.60 401.66h2.71v13.30h-2.71zM897.26 396.34h2.71v18.62h-2.71zM899.92 396.34h2.71v13.30h-2.71zM902.58 388.36h2.71v21.28h-2.71zM905.24 388.36h2.71v18.62h-2.71zM907.90 396.34h2.71v18.62h-2.71zM910.56 401.66h2.71v13.30h-2.71zM913.22 396.34h2.71v13.30h-2.71zM915.88 396.34h2.71v15.96h-2.71zM918.54 401.66h2.71v13.30h-2.71zM921.20 404.32h2.71v15.96h-2.71zM923.86 404.32h2.71v15.96h-2.71zM926.52 401.66h2.71v15.96h-2.71zM929.18 399.00h2.71v18.62h-2.71zM931.84 399.00h2.71v10.64h-2.71zM934.50 399.00h2.71v10.64h-2.71zM937.16 391.02h2.71v18.62h-2.71zM939.82 377.72h2.71v23.94h-2.71zM942.48 380.38h2.71v10.64h-2.71zM945.14 383.04h2.71v15.96h-2.71zM947.80 388.36h2.71v15.96h-2.71zM950.46 393.68h2.71v15.96h-2.71zM953.12 391.02h2.71v18.62h-2.71zM955.78 388.36h2.71v13.30h-2.71zM958.44 383.04h2.71v15.96h-2.71zM961.10 383.04h2.71v13.30h-2.71zM963.76 385.70h2.71v15.96h-2.71zM966.42 391.02h2.71v10.64h-2.71zM969.08 385.70h2.71v15.96h-2.71zM971.74 383.04h2.71v15.96h-2.71zM974.40 385.70h2.71v13.30h-2.71zM977.06 391.02h2.71v10.64h-2.71zM979.72 383.04h2.71v18.62h-2.71zM982.38 380.38h2.71v13.30h-2.71zM985.04 383.04h2.71v10.64h-2.71zM987.70 380.38h2.71v13.30h-2.71zM990.36 375.06h2.71v18.62h-2.71zM993.02 375.06h2.71v15.96h-2.71zM995.68 380.38h2.71v13.30h-2.71zM998.34 380.38h2.71v15.96h-2.71zM1001.00 383.04h2.71v13.30h-2.71zM1003.66 385.70h2.71v10.64h-2.71zM1006.32 383.04h2.71v21.28h-2.71zM1008.98 393.68h2.71v10.64h-2.71zM1011.64 391.02h2.71v13.30h-2.71zM1014.30 388.36h2.71v18.62h-2.71zM1016.96 399.00h2.71v18.62h-2.71zM1019.62 404.32h2.71v13.30h-2.71zM1022.28 401.66h2.71v15.96h-2.71zM1024.94 399.00h2.71v13.30h-2.71zM1027.60 399.00h2.71v18.62h-2.71zM1030.26 404.32h2.71v13.30h-2.71zM1032.92 396.34h2.71v18.62h-2.71zM1035.58 396.34h2.71v10.64h-2.71zM1038.24 393.68h2.71v13.30h-2.71zM1040.90 383.04h2.71v26.60h-2.71zM1043.56 385.70h2.71v15.96h-2.71zM1046.22 388.36h2.71v13.30h-2.71zM1048.88 385.70h2.71v13.30h-2.71zM1051.54 385.70h2.71v13.30h-2.71zM1054.20 388.36h2.71v10.64h-2.71zM1056.86 388.36h2.71v15.96h-2.71zM1059.52 391.02h2.71v13.30h-2.71zM1062.18 393.68h2.71v10.64h-2.71zM1064.84 393.68h2.71v18.62h-2.71zM1067.50 401.66h2.71v13.30h-2.71zM1070.16 393.68h2.71v21.28h-2.71zM1072.82 385.70h2.71v18.62h-2.71zM1075.48 385.70h2.71v7.98h-2.71zM1078.14 385.70h2.71v13.30h-2.71zM1080.80 385.70h2.71v13.30h-2.71zM1083.46 385.70h2.71v10.64h-2.71zM1086.12 372.40h2.71v23.94h-2.71zM1088.78 369.74h2.71v13.30h-2.71zM1091.44 369.74h2.71v15.96h-2.71zM1094.10 369.74h2.71v15.96h-2.71zM1096.76 372.40h2.71v15.96h-2.71zM1099.42 377.72h2.71v10.64h-2.71zM1102.08 375.06h2.71v13.30h-2.71zM1104.74 375.06h2.71v15.96h-2.71zM1107.40 375.06h2.71v13.30h-2.71zM1110.06 375.06h2.71v23.94h-2.71zM1112.72 388.36h2.71v15.96h-2.71zM1115.38 388.36h2.71v15.96h-2.71zM1118.04 377.72h2.71v23.94h-2.71zM1120.70 375.06h2.71v10.64h-2.71zM1123.36 375.06h2.71v18.62h-2.71zM1126.02 380.38h2.71v15.96h-2.71zM1128.68 377.72h2.71v15.96h-2.71zM1131.34 369.74h2.71v18.62h-2.71zM1134.00 367.08h2.71v15.96h-2.71zM1136.66 369.74h2.71v7.98h-2.71zM1139.32 367.08h2.71v13.30h-2.71zM1141.98 367.08h2.71v23.94h-2.71zM1144.64 377.72h2.71v21.28h-2.71zM1147.30 375.06h2.71v21.28h-2.71zM1149.96 375.06h2.71v13.30h-2.71zM1152.62 375.06h2.71v13.30h-2.71zM1155.28 375.06h2.71v18.62h-2.71zM1157.94 383.04h2.71v10.64h-2.71zM1160.60 380.38h2.71v15.96h-2.71zM1163.26 380.38h2.71v15.96h-2.71zM1165.92 383.04h2.71v13.30h-2.71zM1168.58 385.70h2.71v10.64h-2.71zM1171.24 377.72h2.71v15.96h-2.71zM1173.90 377.72h2.71v13.30h-2.71zM1176.56 377.72h2.71v13.30h-2.71zM1179.22 369.74h2.71v18.62h-2.71zM1181.88 367.08h2.71v13.30h-2.71zM1184.54 367.08h2.71v21.28h-2.71zM1187.20 375.06h2.71v15.96h-2.71zM1189.86 369.74h2.71v18.62h-2.71zM1192.52 372.40h2.71v13.30h-2.71zM1195.18 372.40h2.71v15.96h-2.71zM1197.84 377.72h2.71v15.96h-2.71zM1200.50 377.72h2.71v13.30h-2.71zM1203.16 361.76h2.71v29.26h-2.71zM1205.82 361.76h2.71v26.60h-2.71zM1208.48 375.06h2.71v21.28h-2.71zM1211.14 377.72h2.71v18.62h-2.71zM1213.80 377.72h2.71v13.30h-2.71zM1216.46 380.38h2.71v13.30h-2.71zM1219.12 383.04h2.71v13.30h-2.71zM1221.78 385.70h2.71v13.30h-2.71zM1224.44 380.38h2.71v18.62h-2.71zM1227.10 380.38h2.71v18.62h-2.71zM1229.76 388.36h2.71v21.28h-2.71zM1232.42 393.68h2.71v15.96h-2.71zM1235.08 391.02h2.71v13.30h-2.71zM1237.74 391.02h2.71v10.64h-2.71zM1240.40 388.36h2.71v13.30h-2.71zM1243.06 383.04h2.71v15.96h-2.71zM1245.72 377.72h2.71v15.96h-2.71zM1248.38 377.72h2.71v26.60h-2.71zM1251.04 393.68h2.71v15.96h-2.71zM1253.70 391.02h2.71v18.62h-2.71zM1256.36 388.36h2.71v13.30h-2.71zM1259.02 388.36h2.71v13.30h-2.71zM1261.68 385.70h2.71v13.30h-2.71zM1264.34 380.38h2.71v15.96h-2.71zM1267.00 377.72h2.71v13.30h-2.71zM1269.66 377.72h2.71v10.64h-2.71zM1272.32 377.72h2.71v15.96h-2.71zM1274.98 367.08h2.71v26.60h-2.71zM1277.64 367.08h2.71v15.96h-2.71zM1280.30 375.06h2.71v21.28h-2.71zM1282.96 377.72h2.71v15.96h-2.71zM1285.62 377.72h2.71v10.64h-2.71zM1288.28 375.06h2.71v15.96h-2.71zM1290.94 375.06h2.71v13.30h-2.71zM1293.60 377.72h2.71v18.62h-2.71zM1296.26 380.38h2.71v15.96h-2.71zM1298.92 377.72h2.71v13.30h-2.71zM1301.58 369.74h2.71v18.62h-2.71zM1304.24 364.42h2.71v15.96h-2.71zM1306.90 361.76h2.71v13.30h-2.71zM1309.56 361.76h2.71v13.30h-2.71zM1312.22 361.76h2.71v10.64h-2.71zM1314.88 361.76h2.71v13.30h-2.71zM1317.54 356.44h2.71v15.96h-2.71zM1320.20 351.12h2.71v15.96h-2.71zM1322.86 351.12h2.71v18.62h-2.71zM1325.52 356.44h2.71v23.94h-2.71zM1328.18 364.42h2.71v15.96h-2.71zM1330.84 364.42h2.71v13.30h-2.71zM1333.50 364.42h2.71v15.96h-2.71zM1336.16 369.74h2.71v10.64h-2.71zM1338.82 369.74h2.71v13.30h-2.71zM1341.48 369.74h2.71v13.30h-2.71zM1344.14 369.74h2.71v18.62h-2.71zM1346.80 372.40h2.71v18.62h-2.71zM1349.46 367.08h2.71v15.96h-2.71zM1352.12 361.76h2.71v15.96h-2.71zM1354.78 361.76h2.71v15.96h-2.71zM1357.44 364.42h2.71v15.96h-2.71zM1360.10 369.74h2.71v10.64h-2.71zM1362.76 367.08h2.71v13.30h-2.71zM1365.42 367.08h2.71v13.30h-2.71zM1368.08 367.08h2.71v10.64h-2.71zM1370.74 356.44h2.71v23.94h-2.71zM1373.40 356.44h2.71v18.62h-2.71zM1376.06 364.42h2.71v26.60h-2.71zM1378.72 369.74h2.71v18.62h-2.71zM1381.38 364.42h2.71v18.62h-2.71zM1384.04 356.44h2.71v18.62h-2.71zM1386.70 351.12h2.71v15.96h-2.71zM1389.36 351.12h2.71v7.98h-2.71zM1392.02 348.46h2.71v15.96h-2.71zM1394.68 353.78h2.71v13.30h-2.71zM1397.34 356.44h2.71v13.30h-2.71zM1400.00 356.44h2.71v13.30h-2.71zM1402.66 353.78h2.71v13.30h-2.71zM1405.32 351.12h2.71v23.94h-2.71zM1407.98 364.42h2.71v15.96h-2.71zM1410.64 367.08h2.71v15.96h-2.71zM1413.30 369.74h2.71v15.96h-2.71zM1415.96 372.40h2.71v13.30h-2.71zM1418.62 375.06h2.71v13.30h-2.71zM1421.28 372.40h2.71v13.30h-2.71zM1423.94 369.74h2.71v10.64h-2.71zM1426.60 372.40h2.71v13.30h-2.71zM1429.26 375.06h2.71v10.64h-2.71zM1431.92 367.08h2.71v18.62h-2.71zM1434.58 367.08h2.71v13.30h-2.71zM1437.24 367.08h2.71v10.64h-2.71zM1439.90 364.42h2.71v10.64h-2.71zM1442.56 364.42h2.71v10.64h-2.71zM1445.22 367.08h2.71v10.64h-2.71zM1447.88 364.42h2.71v18.62h-2.71zM1450.54 372.40h2.71v15.96h-2.71zM1453.20 372.40h2.71v18.62h-2.71zM1455.86 372.40h2.71v13.30h-2.71zM1458.52 369.74h2.71v13.30h-2.71zM1461.18 367.08h2.71v13.30h-2.71zM1463.84 369.74h2.71v10.64h-2.71zM1466.50 369.74h2.71v13.30h-2.71z" fill="#0000ff"/>
<path d="M179.0 832.0 L180.6 780.0 L183.4 650.0 L186.0 515.0 L188.8 425.0 L192.0 365.0 L195.0 325.0 L197.0 300.0 L199.5 282.5 L202.5 276.2 L204.0 287.5" fill="none" stroke="#008000" stroke-width="5.0" stroke-linejoin="round"/>
<path d="M203.00 284.62h2.71v7.98h-2.71zM205.66 284.62h2.71v7.98h-2.71zM208.32 281.96h2.71v10.64h-2.71zM210.98 276.64h2.71v13.30h-2.71zM213.64 273.98h2.71v10.64h-2.71zM216.30 273.98h2.71v10.64h-2.71zM218.96 268.66h2.71v13.30h-2.71zM221.62 263.34h2.71v13.30h-2.71zM224.28 260.68h2.71v10.64h-2.71zM226.94 255.36h2.71v13.30h-2.71zM229.60 252.70h2.71v13.30h-2.71zM232.26 247.38h2.71v13.30h-2.71zM234.92 244.72h2.71v10.64h-2.71zM237.58 244.72h2.71v10.64h-2.71zM240.24 247.38h2.71v10.64h-2.71zM242.90 247.38h2.71v10.64h-2.71zM245.56 244.72h2.71v10.64h-2.71zM248.22 236.74h2.71v15.96h-2.71zM250.88 239.40h2.71v10.64h-2.71zM253.54 242.06h2.71v13.30h-2.71zM256.20 244.72h2.71v10.64h-2.71zM258.86 244.72h2.71v10.64h-2.71zM261.52 244.72h2.71v7.98h-2.71zM264.18 234.08h2.71v18.62h-2.71zM266.84 234.08h2.71v13.30h-2.71zM269.50 239.40h2.71v7.98h-2.71zM272.16 239.40h2.71v10.64h-2.71zM274.82 239.40h2.71v10.64h-2.71zM277.48 242.06h2.71v10.64h-2.71zM280.14 242.06h2.71v15.96h-2.71zM282.80 247.38h2.71v10.64h-2.71zM285.46 250.04h2.71v13.30h-2.71zM288.12 255.36h2.71v10.64h-2.71zM290.78 258.02h2.71v13.30h-2.71zM293.44 260.68h2.71v15.96h-2.71zM296.10 268.66h2.71v10.64h-2.71zM298.76 271.32h2.71v15.96h-2.71zM301.42 271.32h2.71v15.96h-2.71zM304.08 271.32h2.71v10.64h-2.71zM306.74 266.00h2.71v13.30h-2.71zM309.40 263.34h2.71v10.64h-2.71zM312.06 263.34h2.71v7.98h-2.71zM314.72 263.34h2.71v7.98h-2.71zM317.38 260.68h2.71v15.96h-2.71zM320.04 266.00h2.71v7.98h-2.71zM322.70 266.00h2.71v15.96h-2.71zM325.36 271.32h2.71v13.30h-2.71zM328.02 276.64h2.71v15.96h-2.71zM330.68 281.96h2.71v13.30h-2.71zM333.34 284.62h2.71v15.96h-2.71zM336.00 289.94h2.71v15.96h-2.71zM338.66 295.26h2.71v10.64h-2.71zM341.32 295.26h2.71v10.64h-2.71zM343.98 287.28h2.71v18.62h-2.71zM346.64 271.32h2.71v23.94h-2.71zM349.30 268.66h2.71v13.30h-2.71zM351.96 263.34h2.71v13.30h-2.71zM354.62 258.02h2.71v13.30h-2.71zM357.28 252.70h2.71v13.30h-2.71zM359.94 252.70h2.71v10.64h-2.71zM362.60 250.04h2.71v7.98h-2.71zM365.26 247.38h2.71v10.64h-2.71zM367.92 247.38h2.71v13.30h-2.71zM370.58 244.72h2.71v13.30h-2.71zM373.24 242.06h2.71v10.64h-2.71zM375.90 239.40h2.71v15.96h-2.71zM378.56 236.74h2.71v18.62h-2.71zM381.22 228.76h2.71v18.62h-2.71zM383.88 228.76h2.71v15.96h-2.71zM386.54 236.74h2.71v13.30h-2.71zM389.20 239.40h2.71v18.62h-2.71zM391.86 247.38h2.71v18.62h-2.71zM394.52 258.02h2.71v10.64h-2.71zM397.18 260.68h2.71v13.30h-2.71zM399.84 266.00h2.71v18.62h-2.71zM402.50 273.98h2.71v15.96h-2.71zM405.16 281.96h2.71v18.62h-2.71zM407.82 289.94h2.71v13.30h-2.71zM410.48 284.62h2.71v18.62h-2.71zM413.14 273.98h2.71v21.28h-2.71zM415.80 263.34h2.71v21.28h-2.71zM418.46 255.36h2.71v18.62h-2.71zM421.12 247.38h2.71v18.62h-2.71zM423.78 236.74h2.71v21.28h-2.71zM426.44 226.10h2.71v18.62h-2.71zM429.10 223.44h2.71v13.30h-2.71zM431.76 212.80h2.71v21.28h-2.71zM434.42 215.46h2.71v15.96h-2.71zM437.08 220.78h2.71v18.62h-2.71zM439.74 231.42h2.71v18.62h-2.71zM442.40 239.40h2.71v18.62h-2.71zM445.06 247.38h2.71v15.96h-2.71zM447.72 255.36h2.71v15.96h-2.71zM450.38 260.68h2.71v15.96h-2.71zM453.04 266.00h2.71v18.62h-2.71zM455.70 276.64h2.71v13.30h-2.71zM458.36 279.30h2.71v10.64h-2.71zM461.02 273.98h2.71v10.64h-2.71zM463.68 268.66h2.71v15.96h-2.71zM466.34 263.34h2.71v15.96h-2.71zM469.00 260.68h2.71v10.64h-2.71zM471.66 263.34h2.71v13.30h-2.71zM474.32 268.66h2.71v10.64h-2.71zM476.98 268.66h2.71v10.64h-2.71zM479.64 271.32h2.71v7.98h-2.71zM482.30 271.32h2.71v13.30h-2.71zM484.96 273.98h2.71v15.96h-2.71zM487.62 281.96h2.71v13.30h-2.71zM490.28 284.62h2.71v13.30h-2.71zM492.94 287.28h2.71v13.30h-2.71zM495.60 287.28h2.71v7.98h-2.71zM498.26 281.96h2.71v13.30h-2.71zM500.92 281.96h2.71v7.98h-2.71zM503.58 279.30h2.71v13.30h-2.71zM506.24 281.96h2.71v15.96h-2.71zM508.90 287.28h2.71v10.64h-2.71zM511.56 289.94h2.71v13.30h-2.71zM514.22 292.60h2.71v18.62h-2.71zM516.88 300.58h2.71v15.96h-2.71zM519.54 308.56h2.71v10.64h-2.71zM522.20 308.56h2.71v10.64h-2.71zM524.86 308.56h2.71v10.64h-2.71zM527.52 305.90h2.71v10.64h-2.71zM530.18 295.26h2.71v21.28h-2.71zM532.84 284.62h2.71v18.62h-2.71zM535.50 279.30h2.71v15.96h-2.71zM538.16 273.98h2.71v13.30h-2.71zM540.82 273.98h2.71v10.64h-2.71zM543.48 266.00h2.71v18.62h-2.71zM546.14 268.66h2.71v10.64h-2.71zM548.80 268.66h2.71v15.96h-2.71zM551.46 273.98h2.71v26.60h-2.71zM554.12 292.60h2.71v18.62h-2.71zM556.78 303.24h2.71v18.62h-2.71zM559.44 313.88h2.71v13.30h-2.71zM562.10 319.20h2.71v13.30h-2.71zM564.76 316.54h2.71v13.30h-2.71zM567.42 313.88h2.71v13.30h-2.71zM570.08 308.56h2.71v13.30h-2.71zM572.74 308.56h2.71v10.64h-2.71zM575.40 311.22h2.71v7.98h-2.71zM578.06 300.58h2.71v18.62h-2.71zM580.72 289.94h2.71v21.28h-2.71zM583.38 289.94h2.71v10.64h-2.71zM586.04 292.60h2.71v10.64h-2.71zM588.70 292.60h2.71v15.96h-2.71zM591.36 300.58h2.71v10.64h-2.71zM594.02 303.24h2.71v10.64h-2.71zM596.68 305.90h2.71v10.64h-2.71zM599.34 308.56h2.71v7.98h-2.71zM602.00 308.56h2.71v13.30h-2.71zM604.66 313.88h2.71v5.32h-2.71zM607.32 308.56h2.71v10.64h-2.71zM609.98 308.56h2.71v7.98h-2.71zM612.64 305.90h2.71v10.64h-2.71zM615.30 303.24h2.71v7.98h-2.71zM617.96 297.92h2.71v10.64h-2.71zM620.62 289.94h2.71v15.96h-2.71zM623.28 284.62h2.71v13.30h-2.71zM625.94 281.96h2.71v10.64h-2.71zM628.60 284.62h2.71v10.64h-2.71zM631.26 289.94h2.71v10.64h-2.71zM633.92 292.60h2.71v13.30h-2.71zM636.58 297.92h2.71v10.64h-2.71zM639.24 297.92h2.71v13.30h-2.71zM641.90 300.58h2.71v10.64h-2.71zM644.56 300.58h2.71v10.64h-2.71zM647.22 300.58h2.71v7.98h-2.71zM649.88 297.92h2.71v10.64h-2.71zM652.54 297.92h2.71v10.64h-2.71zM655.20 289.94h2.71v15.96h-2.71zM657.86 287.28h2.71v13.30h-2.71zM660.52 287.28h2.71v7.98h-2.71zM663.18 287.28h2.71v7.98h-2.71zM665.84 289.94h2.71v10.64h-2.71zM668.50 292.60h2.71v7.98h-2.71zM671.16 292.60h2.71v7.98h-2.71zM673.82 292.60h2.71v7.98h-2.71zM676.48 292.60h2.71v10.64h-2.71zM679.14 295.26h2.71v7.98h-2.71zM681.80 292.60h2.71v10.64h-2.71zM684.46 292.60h2.71v10.64h-2.71zM687.12 284.62h2.71v18.62h-2.71zM689.78 276.64h2.71v15.96h-2.71zM692.44 276.64h2.71v10.64h-2.71zM695.10 279.30h2.71v10.64h-2.71zM697.76 281.96h2.71v7.98h-2.71zM700.42 281.96h2.71v7.98h-2.71zM703.08 279.30h2.71v7.98h-2.71zM705.74 279.30h2.71v7.98h-2.71zM708.40 279.30h2.71v7.98h-2.71zM711.06 279.30h2.71v15.96h-2.71zM713.72 287.28h2.71v10.64h-2.71zM716.38 289.94h2.71v10.64h-2.71zM719.04 289.94h2.71v10.64h-2.71zM721.70 289.94h2.71v7.98h-2.71zM724.36 287.28h2.71v10.64h-2.71zM727.02 284.62h2.71v7.98h-2.71zM729.68 287.28h2.71v10.64h-2.71zM732.34 287.28h2.71v10.64h-2.71zM735.00 284.62h2.71v10.64h-2.71zM737.66 281.96h2.71v10.64h-2.71zM740.32 284.62h2.71v15.96h-2.71zM742.98 289.94h2.71v10.64h-2.71zM745.64 292.60h2.71v10.64h-2.71zM748.30 289.94h2.71v13.30h-2.71zM750.96 289.94h2.71v13.30h-2.71zM753.62 295.26h2.71v13.30h-2.71zM756.28 300.58h2.71v10.64h-2.71zM758.94 303.24h2.71v13.30h-2.71zM761.60 305.90h2.71v7.98h-2.71zM764.26 303.24h2.71v10.64h-2.71zM766.92 303.24h2.71v7.98h-2.71zM769.58 300.58h2.71v10.64h-2.71zM772.24 303.24h2.71v7.98h-2.71zM774.90 289.94h2.71v21.28h-2.71zM777.56 284.62h2.71v13.30h-2.71zM780.22 281.96h2.71v10.64h-2.71zM782.88 284.62h2.71v7.98h-2.71zM785.54 284.62h2.71v10.64h-2.71zM788.20 287.28h2.71v10.64h-2.71zM790.86 287.28h2.71v10.64h-2.71zM793.52 287.28h2.71v7.98h-2.71zM796.18 284.62h2.71v7.98h-2.71zM798.84 279.30h2.71v10.64h-2.71zM801.50 279.30h2.71v10.64h-2.71zM804.16 281.96h2.71v10.64h-2.71zM806.82 287.28h2.71v7.98h-2.71zM809.48 279.30h2.71v18.62h-2.71zM812.14 279.30h2.71v7.98h-2.71zM814.80 273.98h2.71v10.64h-2.71zM817.46 273.98h2.71v13.30h-2.71zM820.12 279.30h2.71v13.30h-2.71zM822.78 287.28h2.71v7.98h-2.71zM825.44 289.94h2.71v15.96h-2.71zM828.10 281.96h2.71v26.60h-2.71zM830.76 284.62h2.71v7.98h-2.71zM833.42 284.62h2.71v13.30h-2.71zM836.08 284.62h2.71v10.64h-2.71zM838.74 281.96h2.71v10.64h-2.71zM841.40 281.96h2.71v7.98h-2.71zM844.06 279.30h2.71v10.64h-2.71zM846.72 271.32h2.71v13.30h-2.71zM849.38 268.66h2.71v10.64h-2.71zM852.04 268.66h2.71v10.64h-2.71zM854.70 273.98h2.71v7.98h-2.71zM857.36 276.64h2.71v13.30h-2.71zM860.02 281.96h2.71v13.30h-2.71zM862.68 289.94h2.71v15.96h-2.71zM865.34 297.92h2.71v7.98h-2.71zM868.00 297.92h2.71v10.64h-2.71zM870.66 300.58h2.71v7.98h-2.71zM873.32 300.58h2.71v7.98h-2.71zM875.98 295.26h2.71v10.64h-2.71zM878.64 295.26h2.71v7.98h-2.71zM881.30 292.60h2.71v13.30h-2.71zM883.96 289.94h2.71v15.96h-2.71zM886.62 289.94h2.71v7.98h-2.71zM889.28 289.94h2.71v7.98h-2.71zM891.94 292.60h2.71v7.98h-2.71zM894.60 295.26h2.71v7.98h-2.71zM897.26 297.92h2.71v13.30h-2.71zM899.92 303.24h2.71v13.30h-2.71zM902.58 303.24h2.71v13.30h-2.71zM905.24 297.92h2.71v13.30h-2.71zM907.90 295.26h2.71v10.64h-2.71zM910.56 297.92h2.71v10.64h-2.71zM913.22 300.58h2.71v7.98h-2.71zM915.88 295.26h2.71v13.30h-2.71zM918.54 292.60h2.71v13.30h-2.71zM921.20 279.30h2.71v18.62h-2.71zM923.86 279.30h2.71v15.96h-2.71zM926.52 287.28h2.71v13.30h-2.71zM929.18 292.60h2.71v7.98h-2.71zM931.84 292.60h2.71v10.64h-2.71zM934.50 292.60h2.71v10.64h-2.71zM937.16 295.26h2.71v10.64h-2.71zM939.82 295.26h2.71v10.64h-2.71zM942.48 295.26h2.71v10.64h-2.71zM945.14 295.26h2.71v10.64h-2.71zM947.80 284.62h2.71v18.62h-2.71zM950.46 281.96h2.71v10.64h-2.71zM953.12 281.96h2.71v7.98h-2.71zM955.78 281.96h2.71v7.98h-2.71zM958.44 279.30h2.71v10.64h-2.71zM961.10 276.64h2.71v10.64h-2.71zM963.76 279.30h2.71v7.98h-2.71zM966.42 279.30h2.71v13.30h-2.71zM969.08 284.62h2.71v13.30h-2.71zM971.74 289.94h2.71v13.30h-2.71zM974.40 295.26h2.71v10.64h-2.71zM977.06 297.92h2.71v7.98h-2.71zM979.72 295.26h2.71v13.30h-2.71zM982.38 300.58h2.71v7.98h-2.71zM985.04 300.58h2.71v7.98h-2.71zM987.70 300.58h2.71v7.98h-2.71zM990.36 297.92h2.71v10.64h-2.71zM993.02 289.94h2.71v15.96h-2.71zM995.68 287.28h2.71v10.64h-2.71zM998.34 281.96h2.71v13.30h-2.71zM1001.00 281.96h2.71v10.64h-2.71zM1003.66 287.28h2.71v10.64h-2.71zM1006.32 287.28h2.71v13.30h-2.71zM1008.98 289.94h2.71v10.64h-2.71zM1011.64 292.60h2.71v10.64h-2.71zM1014.30 295.26h2.71v13.30h-2.71zM1016.96 300.58h2.71v15.96h-2.71zM1019.62 308.56h2.71v10.64h-2.71zM1022.28 308.56h2.71v10.64h-2.71zM1024.94 300.58h2.71v15.96h-2.71zM1027.60 297.92h2.71v13.30h-2.71zM1030.26 289.94h2.71v13.30h-2.71zM1032.92 279.30h2.71v15.96h-2.71zM1035.58 276.64h2.71v7.98h-2.71zM1038.24 266.00h2.71v15.96h-2.71zM1040.90 258.02h2.71v15.96h-2.71zM1043.56 258.02h2.71v10.64h-2.71zM1046.22 260.68h2.71v13.30h-2.71zM1048.88 263.34h2.71v7.98h-2.71zM1051.54 260.68h2.71v13.30h-2.71zM1054.20 266.00h2.71v10.64h-2.71zM1056.86 271.32h2.71v10.64h-2.71zM1059.52 273.98h2.71v10.64h-2.71zM1062.18 276.64h2.71v7.98h-2.71zM1064.84 276.64h2.71v10.64h-2.71zM1067.50 273.98h2.71v10.64h-2.71zM1070.16 268.66h2.71v10.64h-2.71zM1072.82 271.32h2.71v13.30h-2.71zM1075.48 276.64h2.71v7.98h-2.71zM1078.14 271.32h2.71v15.96h-2.71zM1080.80 271.32h2.71v10.64h-2.71zM1083.46 273.98h2.71v13.30h-2.71zM1086.12 279.30h2.71v10.64h-2.71zM1088.78 284.62h2.71v10.64h-2.71zM1091.44 281.96h2.71v13.30h-2.71zM1094.10 279.30h2.71v13.30h-2.71zM1096.76 281.96h2.71v7.98h-2.71zM1099.42 279.30h2.71v13.30h-2.71zM1102.08 284.62h2.71v7.98h-2.71zM1104.74 279.30h2.71v13.30h-2.71zM1107.40 279.30h2.71v7.98h-2.71zM1110.06 279.30h2.71v7.98h-2.71zM1112.72 279.30h2.71v7.98h-2.71zM1115.38 281.96h2.71v7.98h-2.71zM1118.04 281.96h2.71v7.98h-2.71zM1120.70 279.30h2.71v10.64h-2.71zM1123.36 279.30h2.71v7.98h-2.71zM1126.02 279.30h2.71v7.98h-2.71zM1128.68 271.32h2.71v15.96h-2.71zM1131.34 268.66h2.71v10.64h-2.71zM1134.00 260.68h2.71v15.96h-2.71zM1136.66 260.68h2.71v10.64h-2.71zM1139.32 263.34h2.71v7.98h-2.71zM1141.98 260.68h2.71v13.30h-2.71zM1144.64 260.68h2.71v10.64h-2.71zM1147.30 263.34h2.71v10.64h-2.71zM1149.96 263.34h2.71v10.64h-2.71zM1152.62 263.34h2.71v10.64h-2.71zM1155.28 266.00h2.71v13.30h-2.71zM1157.94 271.32h2.71v18.62h-2.71zM1160.60 281.96h2.71v13.30h-2.71zM1163.26 287.28h2.71v15.96h-2.71zM1165.92 292.60h2.71v15.96h-2.71zM1168.58 303.24h2.71v10.64h-2.71zM1171.24 305.90h2.71v13.30h-2.71zM1173.90 308.56h2.71v18.62h-2.71zM1176.56 319.20h2.71v7.98h-2.71zM1179.22 313.88h2.71v13.30h-2.71zM1181.88 311.22h2.71v10.64h-2.71zM1184.54 305.90h2.71v10.64h-2.71zM1187.20 295.26h2.71v15.96h-2.71zM1189.86 292.60h2.71v13.30h-2.71zM1192.52 292.60h2.71v10.64h-2.71zM1195.18 289.94h2.71v10.64h-2.71zM1197.84 287.28h2.71v10.64h-2.71zM1200.50 281.96h2.71v13.30h-2.71zM1203.16 276.64h2.71v13.30h-2.71zM1205.82 276.64h2.71v7.98h-2.71zM1208.48 273.98h2.71v13.30h-2.71zM1211.14 279.30h2.71v10.64h-2.71zM1213.80 284.62h2.71v7.98h-2.71zM1216.46 281.96h2.71v10.64h-2.71zM1219.12 276.64h2.71v15.96h-2.71zM1221.78 276.64h2.71v10.64h-2.71zM1224.44 273.98h2.71v10.64h-2.71zM1227.10 273.98h2.71v7.98h-2.71zM1229.76 273.98h2.71v7.98h-2.71zM1232.42 273.98h2.71v13.30h-2.71zM1235.08 276.64h2.71v10.64h-2.71zM1237.74 273.98h2.71v13.30h-2.71zM1240.40 273.98h2.71v7.98h-2.71zM1243.06 276.64h2.71v10.64h-2.71zM1245.72 279.30h2.71v10.64h-2.71zM1248.38 281.96h2.71v7.98h-2.71zM1251.04 276.64h2.71v13.30h-2.71zM1253.70 276.64h2.71v10.64h-2.71zM1256.36 276.64h2.71v13.30h-2.71zM1259.02 276.64h2.71v7.98h-2.71zM1261.68 271.32h2.71v13.30h-2.71zM1264.34 268.66h2.71v10.64h-2.71zM1267.00 263.34h2.71v13.30h-2.71zM1269.66 258.02h2.71v13.30h-2.71zM1272.32 258.02h2.71v10.64h-2.71zM1274.98 263.34h2.71v7.98h-2.71zM1277.64 263.34h2.71v7.98h-2.71zM1280.30 263.34h2.71v10.64h-2.71zM1282.96 266.00h2.71v13.30h-2.71zM1285.62 271.32h2.71v13.30h-2.71zM1288.28 276.64h2.71v7.98h-2.71zM1290.94 271.32h2.71v13.30h-2.71zM1293.60 266.00h2.71v10.64h-2.71zM1296.26 263.34h2.71v10.64h-2.71zM1298.92 260.68h2.71v10.64h-2.71zM1301.58 258.02h2.71v7.98h-2.71zM1304.24 255.36h2.71v10.64h-2.71zM1306.90 252.70h2.71v10.64h-2.71zM1309.56 252.70h2.71v7.98h-2.71zM1312.22 255.36h2.71v10.64h-2.71zM1314.88 258.02h2.71v13.30h-2.71zM1317.54 263.34h2.71v15.96h-2.71zM1320.20 273.98h2.71v10.64h-2.71zM1322.86 276.64h2.71v10.64h-2.71zM1325.52 279.30h2.71v7.98h-2.71zM1328.18 276.64h2.71v7.98h-2.71zM1330.84 273.98h2.71v10.64h-2.71zM1333.50 273.98h2.71v7.98h-2.71zM1336.16 273.98h2.71v7.98h-2.71zM1338.82 260.68h2.71v21.28h-2.71zM1341.48 258.02h2.71v10.64h-2.71zM1344.14 252.70h2.71v13.30h-2.71zM1346.80 247.38h2.71v13.30h-2.71zM1349.46 247.38h2.71v10.64h-2.71zM1352.12 250.04h2.71v10.64h-2.71zM1354.78 252.70h2.71v13.30h-2.71zM1357.44 258.02h2.71v15.96h-2.71zM1360.10 263.34h2.71v7.98h-2.71zM1362.76 260.68h2.71v10.64h-2.71zM1365.42 260.68h2.71v13.30h-2.71zM1368.08 266.00h2.71v13.30h-2.71zM1370.74 271.32h2.71v10.64h-2.71zM1373.40 276.64h2.71v10.64h-2.71zM1376.06 276.64h2.71v10.64h-2.71zM1378.72 268.66h2.71v13.30h-2.71zM1381.38 268.66h2.71v10.64h-2.71zM1384.04 273.98h2.71v7.98h-2.71zM1386.70 273.98h2.71v13.30h-2.71zM1389.36 273.98h2.71v15.96h-2.71zM1392.02 266.00h2.71v18.62h-2.71zM1394.68 268.66h2.71v7.98h-2.71zM1397.34 266.00h2.71v10.64h-2.71zM1400.00 266.00h2.71v7.98h-2.71zM1402.66 260.68h2.71v13.30h-2.71zM1405.32 258.02h2.71v10.64h-2.71zM1407.98 260.68h2.71v5.32h-2.71zM1410.64 258.02h2.71v7.98h-2.71zM1413.30 258.02h2.71v7.98h-2.71zM1415.96 255.36h2.71v10.64h-2.71zM1418.62 252.70h2.71v10.64h-2.71zM1421.28 247.38h2.71v13.30h-2.71zM1423.94 250.04h2.71v5.32h-2.71zM1426.60 250.04h2.71v13.30h-2.71zM1429.26 255.36h2.71v13.30h-2.71zM1431.92 260.68h2.71v10.64h-2.71zM1434.58 263.34h2.71v10.64h-2.71zM1437.24 266.00h2.71v7.98h-2.71zM1439.90 266.00h2.71v7.98h-2.71zM1442.56 263.34h2.71v10.64h-2.71zM1445.22 268.66h2.71v15.96h-2.71zM1447.88 276.64h2.71v7.98h-2.71zM1450.54 268.66h2.71v15.96h-2.71zM1453.20 266.00h2.71v10.64h-2.71zM1455.86 266.00h2.71v13.30h-2.71zM1458.52 271.32h2.71v13.30h-2.71zM1461.18 276.64h2.71v10.64h-2.71zM1463.84 279.30h2.71v10.64h-2.71zM1466.50 281.96h2.71v7.98h-2.71z" fill="#008000"/>
</g>
<g font-family="'Liberation Serif', 'Times New Roman', serif" font-weight="bold" fill="#000">
<text x="155.5" y="1094.6" font-size="52" text-anchor="end">0.0</text>
<text x="155.5" y="887.0" font-size="52" text-anchor="end">0.2</text>
<text x="155.5" y="679.4" font-size="52" text-anchor="end">0.4</text>
<text x="155.5" y="471.8" font-size="52" text-anchor="end">0.6</text>
<text x="155.5" y="264.2" font-size="52" text-anchor="end">0.8</text>
<text x="155.5" y="56.6" font-size="52" text-anchor="end">1.0</text>
<text x="178.5" y="1138.4" font-size="49" text-anchor="middle">0</text>
<text x="402.7" y="1138.4" font-size="49" text-anchor="middle">2</text>
<text x="626.9" y="1138.4" font-size="49" text-anchor="middle">4</text>
<text x="851.1" y="1138.4" font-size="49" text-anchor="middle">6</text>
<text x="1075.3" y="1138.4" font-size="49" text-anchor="middle">8</text>
<text x="1299.5" y="1138.4" font-size="49" text-anchor="middle">10</text>
<text x="822.5" y="1231" font-size="60" text-anchor="middle" textLength="426" lengthAdjust="spacingAndGlyphs">Distance(meters)</text>
<text transform="translate(68 560) rotate(-90)" font-size="60" text-anchor="middle" textLength="538" lengthAdjust="spacingAndGlyphs">Coefficient of friction</text>
<line x1="1029" y1="822" x2="1152" y2="822" stroke="#555555" stroke-width="5.0"/>
<text x="1165" y="839.0" font-size="53.5">Ni-GQDs-I</text>
<line x1="1029" y1="889" x2="1152" y2="889" stroke="#ff0000" stroke-width="4.2"/>
<text x="1165" y="906.0" font-size="53.5">Ni-GQDs-II</text>
<line x1="1029" y1="956" x2="1152" y2="956" stroke="#0000ff" stroke-width="5.0"/>
<text x="1165" y="973.0" font-size="53.5">Ni-GQDs-III</text>
<line x1="1029" y1="1024" x2="1152" y2="1024" stroke="#008000" stroke-width="5.0"/>
<text x="1165" y="1041.0" font-size="53.5">Ni-GQDs-IV</text>
</g>
</svg>
</body></html>
